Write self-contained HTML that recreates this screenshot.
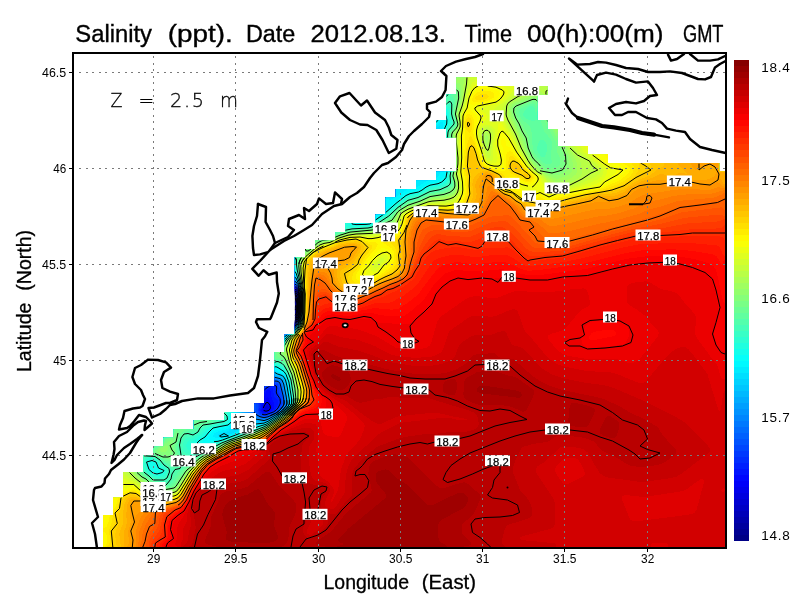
<!DOCTYPE html>
<html lang="en"><head><meta charset="utf-8"><title>Salinity (ppt)</title>
<style>html,body{margin:0;padding:0;background:#fff;overflow:hidden}svg{display:block}text{font-family:"Liberation Sans",sans-serif;fill:#000}</style></head><body>
<svg width="800" height="600" viewBox="0 0 800 600">
<rect width="800" height="600" fill="#fff"/>
<defs><clipPath id="m"><path d="M103,548L103,515L113.1,515L113.1,497.8L123.2,497.8L123.2,472.1L143.4,472.1L143.4,454.9L153.5,454.9L153.5,446.4L163.6,446.4L163.6,437.8L173.7,437.8L173.7,429.2L193.9,429.2L193.9,420.6L224.2,420.6L224.2,412L254.5,412L254.5,403.5L264.6,403.5L264.6,386.3L274.7,386.3L274.7,352L284.8,352L284.8,334.8L294.9,334.8L294.9,257.6L305,257.6L305,249L315.1,249L315.1,240.4L335.3,240.4L335.3,231.9L345.4,231.9L345.4,223.3L375.7,223.3L375.7,214.7L385.8,214.7L385.8,197.5L395.9,197.5L395.9,189L416.1,189L416.1,180.4L436.3,180.4L436.3,171.8L456.5,171.8L456.5,137.5L446.4,137.5L446.4,128.9L436.3,128.9L436.3,120.3L446.4,120.3L446.4,94.6L456.5,94.6L456.5,77.4L476.7,77.4L476.7,86L547.4,86L547.4,94.6L537.3,94.6L537.3,120.3L547.4,120.3L547.4,128.9L557.5,128.9L557.5,146.1L587.8,146.1L587.8,154.6L608,154.6L608,163.2L719.1,163.2L719.1,171.8L726,171.8L726,548Z"/></clipPath></defs>
<g clip-path="url(#m)">
<g fill-rule="evenodd" shape-rendering="crispEdges">
<rect x="70" y="50" width="660" height="500" fill="#000086"/>
<path fill="#000086" d="M70,50L730,50L730,550L70,550ZM180,287.9L189.3,294L193.9,296L198,296.8L213.3,302L234,306.9L248,311.6L252,312.3L254,312.1L256,311L262.4,304L269.4,294L270.4,290L270,287.7L266,287.2L190,287.2ZM296,292.8L294,296.5L291.5,308L290.6,316L290.8,318L292,320.5L294,320.5L296,318.8L298,313.6L298.4,308L298.1,296Z"/>
<path fill="#000093" d="M70,50L730,50L730,550L70,550ZM180,287.5L178.2,288L193.5,296L198,296.9L212.9,302L234,307L248,311.7L252,312.4L254,312.2L256,311.2L264,302.1L269.5,294L270.7,288L270,287.3L266,286.9L190,286.9ZM296,292.3L294,296L291,310L290.5,318L291.1,320L292,321.1L294,320.9L296,319.2L298,314.3L298.4,312L298.3,296L297.7,294Z"/>
<path fill="#00009f" d="M70,50L730,50L730,550L70,550ZM178,287.4L176.3,288L184,291L188.6,294L193.2,296L198,297L212.6,302L234,307.1L248,311.8L252,312.5L254,312.3L256,311.3L262.6,304L269.7,294L271.2,288L270,286.9L266,286.6L188,286.6ZM296,291.8L293.8,296L290.9,310L290.1,318L290.5,320L292,321.7L294,321.4L296,319.7L298,314.9L298.5,312L298.4,296L298,293.8Z"/>
<path fill="#0000ac" d="M70,50L730,50L730,550L70,550ZM176,287.3L174.6,288L178,288.6L192.8,296L198,297.1L212.2,302L234,307.2L248,311.9L252,312.6L254,312.4L256,311.5L262.8,304L269.9,294L271.7,288L270,286.5L266,286.2L186,286.3L180,286.5ZM296,291.4L293.6,296L290.1,314L290,320L292,322.2L294,321.8L296,320.1L298,315.5L298.6,312L298.5,296L298,293.3Z"/>
<path fill="#0000b9" d="M70,50L730,50L730,550L70,550ZM180,286L176,286.4L174,287.1L173.5,288L178,288.9L192.4,296L198,297.3L212,302L234,307.3L248,312L252,312.7L254,312.5L256,311.6L262.9,304L270,294L272.1,288L270,286.1L268,285.9ZM296,290.9L294,294L293.4,296L289.9,314L290,321.4L292,322.7L294,322.2L296,320.5L298,316L298.7,312L298.7,296L298,292.8Z"/>
<path fill="#0000c6" d="M70,50L730,50L730,550L70,550ZM174,285.9L173.5,286L172.7,288L178,289.3L182,290.9L192.1,296L198,297.4L212,302.1L234,307.4L248,312.1L252,312.8L254,312.6L256,311.8L263,304L270.2,294L272.3,288L272,286.9L270.8,286L268,285.7ZM296,290.5L294,293.5L293.3,296L289.8,314L289.8,322L292,323.2L294,322.6L296,320.8L298,316.5L298.9,312L298.8,296L298,292.3Z"/>
<path fill="#0000d2" d="M70,50L730,50L730,550L70,550ZM172,285.9L171.5,286L171.9,288L182,291.1L192,296.1L198,297.5L212,302.2L234,307.5L248,312.2L252,312.9L256,311.9L263.2,304L270.3,294L272.6,288L271.9,286L268,285.4L184,285.4ZM296,290.1L294,292.9L293.1,296L289.4,316L289.5,322L290,323.3L292,323.7L294,322.9L296,321.2L298,317L299,312L299,296L298,291.8Z"/>
<path fill="#0000df" d="M70,50L730,50L730,550L70,550ZM172,285.6L170.1,286L171.4,288L182,291.3L192,296.2L198,297.6L212,302.3L234,307.6L248,312.3L252,312.9L256,312L263.3,304L270.5,294L272.8,288L272,285.7L268,285.2ZM296,289.6L294,292.3L293.4,294L290.4,308L289,318L289.1,322L290,324.1L292,324.2L294,323.3L296,321.6L298,317.5L298.8,314L299.1,296L298,291.3Z"/>
<path fill="#0000ec" d="M70,50L730,50L730,550L70,550ZM170,285.6L168.9,286L170.8,288L182,291.5L192,296.3L198,297.7L212,302.4L234,307.7L248,312.4L252,313L256,312.2L263.4,304L270.6,294L273.1,288L272.9,286L272,285.4L268,285L182,285ZM296,289.1L294,291.7L293.2,294L289.9,310L288.7,320L288.8,322L290,324.7L292,324.6L294,323.7L296,321.9L298,318L299,314L299.2,296L298,290.9ZM266,405.5L264.8,408L266,410.1L268,409.1L268.7,408L268,405.6Z"/>
<path fill="#0000f9" d="M70,50L730,50L730,550L70,550ZM168,285.9L170.3,288L180,290.9L192,296.4L198,297.8L212,302.5L234,307.7L248,312.5L252,313.1L256,312.3L263.6,304L270.8,294L273.3,288L273.3,286L272,285.1L268,284.7L180,284.7L172,285ZM296,288.7L294,291.2L293,294L289.7,310L288.4,322L288.8,324L290,325.2L294,324.1L296,322.3L298,318.5L299.1,314L299.4,296L298,290.4ZM266,402.7L264,405.9L263.4,408L263.4,410L266,411.3L269.3,410L270.6,408L270,405.2L268,402.3Z"/>
<path fill="#0006ff" d="M70,50L730,50L730,550L70,550ZM168,285.4L167.1,286L169.8,288L180,291.1L192,296.5L198,297.9L212,302.6L234,307.8L248,312.6L252,313.2L256,312.4L263.7,304L270.9,294L273.6,288L273.7,286L272,284.8L268,284.5L176,284.5ZM296,288.2L294,290.6L292.9,294L289.2,312L288.1,322L288.2,324L290,325.8L294,324.4L296,322.6L298,319L299.2,314L299.5,296L298,290ZM268,396.7L266,398.8L262.3,408L262.2,410L264,412.1L266,412.3L268,411.7L271.2,410L272.3,408L271.6,404Z"/>
<path fill="#0013ff" d="M70,50L730,50L730,550L70,550ZM168,284.9L166.4,286L169.2,288L180,291.3L192,296.6L197.9,298L212,302.7L234,307.9L248,312.7L252,313.3L256,312.6L263.8,304L271.1,294L273.8,288L274.1,286L272,284.5L268,284.2L176,284.2ZM296,287.8L294,290L293.2,292L288.7,314L287.8,324L289,326L290,326.3L294,324.7L296,322.9L298,319.5L299.4,314L299.7,296L298,289.5ZM270,389.9L268,390L265.8,392L264.8,394L263.8,400L261.2,410L262.1,412L264,412.9L266,413L269.3,412L272.9,410L274.2,408L274.5,404L271.6,398L270.9,392Z"/>
<path fill="#0020ff" d="M70,50L730,50L730,550L70,550ZM174,284L168,284.4L166,285.6L165.7,286L168.7,288L180,291.5L192,296.8L197.5,298L212,302.8L233.9,308L248,312.8L252,313.4L256,312.7L264,304L271.2,294L274,288L274.4,286L274,285.2L272,284.2L270,284ZM296,287.3L294,289.3L293,292L288.2,316L287.6,322L287.9,326L290,326.8L294,325.1L296,323.3L298,319.9L299.5,314L299.9,302L299.5,294L298,289.1ZM270,387.7L265.9,390L264,392.4L262.7,396L262.1,402L260.2,410L260.9,412L264,413.8L268,413.2L274.5,410L276.1,408L278,404L278,400.8L275,398L273.7,396L273.2,388Z"/>
<path fill="#002dff" d="M70,50L730,50L730,550L70,550ZM168,283.9L166,284.7L165.2,286L168.1,288L173.5,290L178,290.9L192,296.9L197.2,298L212,302.9L233.5,308L248,312.9L252,313.5L256,312.8L264.1,304L271.4,294L274.3,288L274.7,286L274,284.7L270,283.6ZM296,286.8L294,288.7L293.4,290L290.9,300L287.5,320L287.3,324L288,327.1L290,327.3L292,326.5L296,323.6L298,320.3L299.2,316L299.9,310L299.9,296L298,288.6ZM272,385.9L268,387.2L266,388.7L261.8,394L259.2,410L259.7,412L262.2,414L266,414.4L272.8,412L275.9,410L279.6,404L279.8,400L275.8,394L275.5,392L276,387.5L274.9,386Z"/>
<path fill="#0039ff" d="M70,50L730,50L730,550L70,550ZM166,283.9L164.6,286L167.6,288L172.9,290L178,291L192,297L196.8,298L212,303L233.1,308L248,313L252,313.6L256,313L264.3,304L271.5,294L275,286L274,284.2L270,283.3L176,283.3ZM296,286.3L294,288L293.1,290L290.7,300L287.3,320L287.2,326L288,328L292,326.9L296,323.9L298,320.8L299.4,316L300,310L300,295.4L298,288.2ZM270,385.3L268,386.2L263.6,390L259.8,396L259.3,404L258.3,410L258.6,412L260.6,414L264,415.2L268,414.5L274.2,412L278.6,408L280.7,404L280.9,400L280,396.7L277.5,392L277.3,386L276,384.7L274,384.5Z"/>
<path fill="#0046ff" d="M70,50L730,50L730,550L70,550ZM166,283.4L164,284L164,286L167.2,288L172.4,290L178,291.2L192,297.1L196.4,298L212,303.1L232.8,308L248,313.1L252,313.7L256,313.1L264.4,304L271.7,294L275.2,286L274,283.6L270,282.9L176,282.9ZM296,285.8L294,287.2L292.8,290L289,308L286.8,324L286.8,326L288,328.6L292,327.2L296,324.2L298,321.2L299.5,316L300.2,310L300,294.2L298,287.8ZM272,383.8L268,385.3L266,386.8L261,392L258.5,396L258,398L257.6,412L259.2,414L262,415.4L266,415.8L275.3,412L279.6,408L281.8,404L281.9,400L279.1,392L278,384.8L276,383.5Z"/>
<path fill="#0053ff" d="M70,50L730,50L730,550L70,550ZM164,283.4L162.1,284L163.3,286L166.7,288L172,290L178,291.3L192,297.2L196.1,298L212,303.2L232.4,308L248,313.2L252,313.8L256,313.2L264.6,304L271.8,294L275.5,286L274.9,284L274,283.1L270,282.6L174,282.6ZM296,285.3L294,286.5L292.5,290L288.8,308L286.5,324L286.9,328L288,329.3L292,327.6L296,324.6L298.6,320L300,314.1L300.1,294L298,287.3ZM270,383.4L266,385.9L261.9,390L258.6,394L256.5,398L256.4,412L257.8,414L262,416.1L266,416.4L276,412.2L280.4,408L282.6,404L282.3,398L278.6,384L276,382.5Z"/>
<path fill="#0060ff" d="M70,50L730,50L730,550L70,550ZM162,283.1L160.4,284L162.6,286L166.3,288L172,290.2L178,291.5L192,297.3L196,298.1L212,303.3L232.1,308L248,313.3L252,313.9L256,313.4L264.7,304L272,294L275.8,286L275.4,284L274,282.6L270,282.2L172,282.2L166,282.4ZM294,285.7L291.2,294L287.2,316L286.1,326L286.3,328L288,329.9L294,326.7L296,324.9L298.8,320L300.1,314L300.5,298L300,292.7L298,286.9L296,284.8ZM272,381.9L268,383.5L264,386.9L257.6,394L255.2,398L254.7,400L255.2,412L256.5,414L262,416.8L266,417L276,412.7L281.2,408L283.4,404L283,398L279.7,384L277.5,382Z"/>
<path fill="#006cff" d="M70,50L730,50L730,550L70,550ZM166,281.9L160,282.9L159.4,284L161.8,286L172,290.4L178,291.7L192,297.4L198,298.8L212,303.4L232,308.1L248,313.4L252,314L256,313.5L264.9,304L272.2,294L276.1,286L276,284L274,282.1L270,281.6ZM294,284.9L291.2,292L287,316L285.8,328L286.6,330L288,330.4L294,327L296.9,324L298.9,320L300.3,314L300.6,298L300,292L298,286.5L296,284.3ZM270,381.5L266,384.2L258.4,392L255.1,396L253.2,400L253.9,412L256,414.7L262,417.5L266,417.6L276,413.1L282,408L284.1,404L283.7,398L280,383L278,381.3L276,380.8Z"/>
<path fill="#0079ff" d="M70,50L730,50L730,550L70,550ZM160,281.4L159.2,282L158.6,284L160.8,286L172,290.5L178,291.8L192,297.5L198,298.9L212,303.5L232,308.2L248,313.5L252,314.1L256,313.6L265.1,304L272.4,294L276.4,286L276,282.7L274,281L272,280.8L170,280.7ZM296,283.8L294,284.1L292.8,286L290.8,292L285.7,324L286,330.7L288,330.9L294,327.3L296,325.5L298.4,322L300,316.2L300.6,310L300.5,294L298.9,288L298,286.1ZM268,381.8L255.8,394L252.8,398L251.5,402L251.9,410L253.2,414L258,416.8L264,418.5L268,417.5L278,412.3L282.6,408L284.8,404L284,396L281.3,384L280.3,382L278,380.4L276,380L272,380.1Z"/>
<path fill="#0086ff" d="M70,50L730,50L730,550L70,550ZM160,279.7L158,280.1L157.3,282L157.8,284L159.9,286L166,288.4L172,290.7L178,292L192,297.6L198,299.1L212,303.6L232,308.3L248,313.6L252,314.2L256,313.8L258,312.2L265.2,304L272.6,294L276.6,286L276.8,284L276,280.6L274,279.7L272,279.6ZM294,283.2L292.3,286L290.8,290L289.1,300L285.4,324L285.4,330L286,331.8L288,331.4L290,330.2L296,325.8L298.5,322L300.2,316L300.8,300L300.3,292L298,285.7L296,283.2ZM270,379.7L266,382.6L254.9,394L251.7,398L249.9,402L250,410L250.9,414L253.6,416L262,418.9L266,418.8L276.2,414L283.2,408L285.5,404L284.7,396L282.1,384L281.2,382L280,380.7L278,379.6L272,379.2Z"/>
<path fill="#0093ff" d="M70,50L730,50L730,550L70,550ZM154,277.9L152.1,278L152,280L154,280.6L156,282.1L159.4,286L172,290.8L178,292.1L192,297.7L198,299.2L212,303.7L232,308.5L248,313.7L254,314.4L256,313.9L258,312.4L265.4,304L267.9,300L272.8,294L276.9,286L277.4,280L276.2,278L274,277.9ZM294,282.4L290.9,288L288.9,298L285.1,324L285,330L286,332.6L288,331.9L296,326.1L298.7,322L300.3,316L300.9,300L300.4,292L298,285.3L296,282.6ZM270,378.8L266,381.8L257.8,390L252.3,396L249.4,400L248.2,404L248.1,412L248.4,414L250,417.4L254,417.4L262,419.6L266,419.4L278,413.2L282,410L285.3,406L286.1,404L286,400L282.1,382L280.4,380L278,378.9L272,378.2Z"/>
<path fill="#009fff" d="M70,50L730,50L730,550L70,550ZM148,277.3L146.3,278L149.1,280L152,280.8L156,282.9L158.8,286L172,291L178,292.3L192,297.9L212,303.8L232,308.6L248,313.8L254,314.5L256,314L258,312.7L265.5,304L268,300.1L273,294L277.2,286L278.7,278L278,277.4L274,276.9ZM294,281.6L291,286L288.6,294L288,304.2L284.7,326L284.9,332L286,333.3L292,329.7L296,326.4L298.9,322L300.4,316L301.1,300L300.6,292L298,284.8L296,282.1ZM270,377.9L266,381L253.2,394L249.7,398L247.3,402L246.7,404L245.5,422L248,423.9L250,422.7L251.9,420L254,418.8L264,420.4L268,419.1L278,413.6L282.5,410L285.9,406L286.7,404L286.6,400L283.5,384L282,380.5L280,378.9L278,378.1L272,377.2Z"/>
<path fill="#00acff" d="M70,50L730,50L730,550L70,550ZM150,276L146,276.4L144.8,278L147.3,280L154,282.4L158.3,286L160,286.7L172,291.1L182,293.9L192,298L210,303.4L234,309.2L248,313.9L254,314.7L256,314.2L258,312.9L265.7,304L273.2,294L277.4,286L280,278L278,276.2L276,276ZM294,280.7L292,282.9L290.4,286L287.8,292L286.8,296L287.4,302L284.2,330L284.2,332L286,334L296,326.8L299.1,322L300.6,316L301.2,300L300.7,292L298,284.4L296,281.3ZM270,377L266,380.3L252.4,394L246,402L245.3,404L244.7,410L242.3,422L243.4,424L248,425.3L250,424.6L254,420.2L254.8,420L256,419.8L262,421L266,420.5L278.1,414L283.1,410L286.5,406L287.3,404L287.2,400L284.2,384L282.5,380L280,378L274,376.4L272,376.2Z"/>
<path fill="#00b9ff" d="M70,50L730,50L730,550L70,550ZM144,275.8L143.5,276L143.7,278L146,280L154,282.9L158,286.1L172,291.3L178,292.6L192,298.1L198,299.5L212,304.1L234,309.3L250,314.5L254,314.9L256,314.4L258,313.1L265.9,304L273.4,294L276.8,288L280.7,278L280,275.8L276,275.3L150,275.3ZM294,279.7L290.6,284L284.4,296L282.9,300L284,301.6L286,301.5L286.4,304L286.1,312L284.6,322L283.8,332L284.3,334L286,334.5L294,328.9L296.9,326L299.2,322L300.7,316L301.3,300L300.8,292L299.8,288L298,284L296,280.5ZM272,375.2L268,377.6L264,381.4L249.8,396L244.9,402L243.9,404L242.6,412L239.5,422L240,424L244.3,426L248,426.3L250,425.8L254,421.7L256,420.9L262,421.7L266,421L278.6,414L283.6,410L287,406L287.9,404L288.1,402L284,381.2L282,378.3L280,377.2L274,375.3Z"/>
<path fill="#00c6ff" d="M70,50L730,50L730,550L70,550ZM142,275.7L141.7,276L142.8,278L146,280.4L154,283.4L158,286.4L170,290.7L178,292.8L192,298.3L198,299.6L212,304.2L234,309.5L250,314.6L254,315L256,314.7L258,313.4L264.5,306L272.2,296L277.1,288L281.5,278L281.5,276L280,275L274,274.6L148,274.6L144,274.9ZM294,278.7L291.1,282L284,294.1L279.6,302L277.1,308L278,309.5L284,305.6L285.4,308L283.4,330L284,335.1L286,335L296,327.4L299.4,322L300.8,316L301.4,300L301,292L300,288L298,283.4L296,279.7ZM270,375.2L252.8,392L243.9,402L241.9,406L240.9,412L237.5,422L237.3,424L238,425L242,426.5L248,427.1L251.1,426L254,423.2L256,422.1L262,422.4L266,421.5L279.2,414L284.1,410L287.5,406L288.4,404L288.4,400L285.5,384L284,379.6L282,377.3L274,374.2L272,374.2Z"/>
<path fill="#00d2ff" d="M70,50L730,50L730,550L70,550ZM146,274L142,274.4L140.6,276L141.9,278L146,280.9L154,283.9L158,286.7L160,287.4L172,291.6L181.1,294L192,298.5L198,299.7L212,304.4L234,309.6L250,314.8L254,315.2L256,314.9L258,313.6L264.8,306L272.6,296L277.4,288L282.2,278L282.5,276L282,275.1L280,274.1L276,273.9ZM294,277.7L291.6,280L278,302.4L273.7,310L271.2,316L272,317.7L282,310.1L284,309.3L284.5,312L284.3,318L283,332L284,336.2L286,335.6L296,327.7L299.6,322L301,316L301.5,300L301.1,292L300,287.5L296,278.8ZM272,373.2L268,376L256,388L246.3,398L241.5,404L235.4,424L235.2,426L236,426.9L248,427.9L252,426.2L256,423.2L262,423L266,422L279.7,414L284.6,410L288,406L289,404L288.9,400L286.1,384L285,380L283.9,378L282,376.2L274,373Z"/>
<path fill="#00dfff" d="M70,50L261.8,50L264,52.4L270,56.6L283.5,70L290,74.6L303.5,88L310,92.6L318,100.3L334.6,110L398,141.3L400,141.2L401.9,140L404.5,136L424,116L426.3,112L426.8,110L424.9,108L421.6,106L408,101L401.6,98L398,97L391.6,94L388,93L381.6,90L378,89L371.6,86L368,85L361.6,82L358,81L351.6,78L348,77L341.6,74L338,73L331.6,70L328,69L321.6,66L318,65L311.6,62L308,61L301.6,58L298,57L294,55.3L292,53.8L290.3,52L289.4,50L730,50L730,550L70,550ZM142,273.3L140.3,274L139.7,276L141.2,278L146,281.3L154,284.2L158,286.9L172,291.7L180.6,294L192,298.6L198,299.9L212,304.6L234,309.7L250,314.9L254,315.3L256,315.1L258,313.8L265.1,306L268,301.6L272.9,296L278.8,286L282.8,278L283.3,276L282,273.7L278,273ZM294,276.5L290.8,280L275.9,304L268,317.7L265.2,324L266,325.9L280,314.7L282,313.3L283,314L283.9,318L282.6,332L283.2,336L284,337.1L286,336.1L296,328L298,325.5L299.8,322L301.1,316L301.6,300L301.2,292L300,287L296,277.8ZM274,371.8L272,372.2L268,375.2L247.4,396L240.5,404L238.6,408L236.6,416L232.2,428L232,430.3L234,430.5L240,428.6L248,428.5L252,426.9L256,424.3L262,423.6L266,422.5L280.2,414L285,410L288.5,406L289.7,402L288,390.4L285.7,380L284,376.9L282,375.2L278,373.9Z"/>
<path fill="#00ecff" d="M70,50L258.8,50L262,54.1L268,58.3L282,72.1L288,76.3L302,90.1L308,94.3L316,102.1L320,105L334,113.2L394,143.2L398,144.2L402.3,142L406.6,136L424.4,118L429.4,110L428.1,108L421.7,104L418,103L411.7,100L408,99L401.7,96L398,95L391.7,92L388,91L381.7,88L378,87L371.7,84L368,83L361.7,80L358,79L351.7,76L348,75L341.7,72L338,71L331.7,68L328,67L321.7,64L298,54.9L294,52.9L291.7,50L730,50L730,550L70,550ZM140,272.6L139,274L139.1,276L140.5,278L146,281.7L154,284.6L158,287.2L172,291.9L180.1,294L192,298.8L198,300L212,304.7L234,309.8L248,314.6L254,315.5L256,315.3L258.1,314L265.3,306L268,302L273.2,296L279.3,286L284.2,276L283.9,274L282,272.4L280,272.1L146,272.1ZM294,275.3L292,276.9L289.9,280L264,322.3L259.9,330L259.4,332L259.9,334L266,329.6L280,317.8L282,316.9L282.7,320L282.2,334L282.5,336L284,338L296,328.3L299.1,324L300.5,320L301.5,314L301.6,294L300.5,288L296,276.7ZM440,125.9L438,126.8L434,131.2L415.9,154L411.9,160L410,163.8L410,166.1L412,167.4L416,167.2L434,158.4L436,156.9L438,152.6L440,138.8L440.5,130ZM272,371.2L264,378.4L244.7,398L239.4,404L237.2,408L233.4,422L230,428.6L228,431.3L220,433.3L218.5,434L218.1,436L222,436.6L225,436L228,434.6L232,433.6L239.5,430L248,429.1L251.3,428L256,425.2L262,424.2L266,422.9L280,414.5L287.3,408L290,404L290.3,402L288,387.1L286,379.1L284,375.6L282,374.1L274,370.6Z"/>
<path fill="#00f9ff" d="M70,50L256.6,50L257.5,52L260,54.8L267,60L282,74.6L287,78L301.3,92L308,96.9L319.3,108L324.7,114L343.1,150L346,158.1L351.1,168L356,181.3L358,185.1L360,183.6L378,164.9L383.1,158L390.9,150L393.3,148L400,144.8L403.5,142L407.9,136L426,117.5L430.6,110L430,108.3L424,103.9L298,53.7L294.7,52L293,50L730,50L730,550L70,550ZM138,271.9L138.4,276L140,278.1L146,282.1L154,284.9L158,287.5L172,292.1L179.6,294L192,299L197.6,300L212,304.9L234,309.9L248,314.7L254,315.6L256,315.5L258.5,314L273.6,296L284.3,278L285.1,276L285.2,274L284,271.1L280,270.4L144,270.3L140,270.5ZM292,275.4L258,330.6L254,338L253.4,340L253.7,342L258,339.4L280,321L282,322.5L281.6,332L282,337.4L282.3,338L284,338.7L296,328.6L299.3,324L300.6,320L301.6,314L301.5,292L300.7,288L296,275.6L294,274.1ZM442,121.4L440,122.3L436,126.3L392,179.9L383.7,192L382.4,196L384,197.5L388,199.4L390,199.7L392,199L408,189.2L418,186.6L426,181.2L436,178.3L438.8,176L439.7,174L441.8,134L443,124L442.6,122ZM274,369.4L272,370.3L268,373.6L238.5,404L235.1,410L232.7,418L232.2,422L228,428.5L226,429.7L220,430.8L216,432.3L213.9,434L213,436L214,437.1L215.3,438L218,438.5L222.9,438L234.2,434L240,431.1L248,429.7L258,425.4L264,424.2L278.4,416L283.8,412L287.7,408L290.4,404L290.8,402L289.1,390L287,380L284,374.4L282,372.9L278,371.4L276,369.9Z"/>
<path fill="#06fff9" d="M70,50L246,50L246,52L248,56.1L253.9,64L254,64.8L255.5,66L256,67.8L257.5,68L259.5,70L260,72L262,74L262,76L264,78L264,80L266,82L266,84L270,88L270,90L272,92L272,94L274,96L274,98L278,102L278,104L280,106L280,108L282,110L282,112L286,116L286,118L288,120L288,122L290,124L290,126L294,130L294,132L296,134L296,136L298,138L298,140L300,142L300,144L304,148L304,150L306,152L306,154L308,156L308,158L312,162L312,164L314,166L314,168L316,170L316,172L320,176L320,178L322,180L322,182L334,194L334,196L336,196L342,190L346,192L350,192.2L354,192.1L358,190.4L363,184L380,166.6L384.8,160L396,148.7L404,142.5L408.7,136L426,118.6L431.6,110L431,108L426,104.1L422,102.1L298,52.8L294.2,50L730,50L730,550L70,550ZM136,269.1L134.7,270L139.3,278L146,282.5L154,285.2L158,287.7L172,292.3L179.1,294L192,299.1L197,300L212,305.1L234,310L248,314.9L254,315.8L256,315.7L259,314L275.5,294L285.3,278L286.9,272L286.8,270L286,269.3L282,268.6L142,268.6ZM292,273.7L288.9,278L253.6,336L248,346.4L247.5,348L247.5,350L248,350.3L254,346L278,325.4L280,324.4L281,328L281.2,336L282,339.7L284,339.4L296,329L298.3,326L300.3,322L301.7,314L301.6,292L300.8,288L296,274.5L294,272.6ZM442,118.5L440,120L434,126.7L376,195.8L360,216.3L357.6,220L358,221.2L359.3,222L362,222.2L368,222.2L370,221.7L381.1,214L396,201L406,193.3L410,191.7L418.6,190L428,183.7L438,181.4L440.4,180L444,176.2L444.8,174L444.6,172L442.4,166L442.1,156L443.2,130L445.1,122L444,118.4ZM272,369.4L266,374.8L245,396L235.9,406L233.7,410L231.2,418L230.9,422L230,424L228,426.4L226,427.7L216,430L212.6,432L209.2,436L208.4,438L210,439.5L218,440L222,439.1L231.5,436L242,431.6L250,429.6L256,426.7L264,424.6L278.9,416L284,412.2L288.2,408L290.9,404L291.3,402L289,386L286.9,378L284,373.1L282,371.8L276,368.3L274,368.3Z"/>
<path fill="#13ffec" d="M70,50L235.4,50L240,60L243,64L248,74L251,78L258,92L261,96L266,106L269,110L274,120L277,124L282,134L285,138L292,152L295,156L300,166L303,170L308,180L311,184L314,190L322.5,200L328,207.4L334,213.2L336,214.1L338,212.5L341.3,208L352.9,196L360,190L364.4,184L381.9,166L386.3,160L396.1,150L404,143.3L409.5,136L426,119.5L432,110.7L432.1,108L426,103.2L422,101.2L308,56L298,51.9L295.4,50L730,50L730,550L70,550ZM132,267.9L132.3,270L136,273.5L137.2,276L140,279.1L146,282.9L154,285.6L158,288L172,292.6L178.6,294L192,299.3L196.5,300L212,305.2L217.2,306L220,307.1L233.5,310L250,315.5L256,315.9L258,315.3L266.7,306L270,301.1L274,297.2L275.3,298L246,346.9L242,354.7L241.4,358L242,358.4L248,354.2L278,328.6L280,328.9L281.2,340L282,340.9L284,340.1L287.9,336L296,329.3L298.6,326L300.5,322L301.6,316L302,310L302.1,296L301,288L296,273.2L294,270.8L292,271.3L290,272.5L289.5,270L288,268L286,267.3L280,267.1L140,267.1L134,267.3ZM444,115L442,116.2L436,122.6L360,212.3L352.5,222L353.3,224L366,224.2L370,223.6L383.6,214L398,201.4L406,195.2L410,193.4L418,192L421.8,190L428,185.6L438,183.4L441.1,182L444,179.5L446,176.9L446.8,172L446,168L444,163.8L443.2,154L444.2,130L446.8,122L446,116.6ZM274,367.3L270,370.1L266,374L234.9,406L232.4,410L229.8,418L229.6,422L228,424.6L226,425.9L216,428.3L212,430L207.8,434L203.2,440L202.3,442L202.7,444L204,444.5L206,444.2L212,441.7L218,441.1L222,440.1L242,432.4L250,430.1L258,426.6L264,425L278,416.9L286.7,410L290.2,406L291.8,402L290.2,390L288.3,380L286,374.6L284,371.8L276,366.9ZM279.5,290L280,288.7L280.2,290L280,290.4ZM277.6,292L278,291.1L278.9,292L276,297.1L275.4,296L276,294Z"/>
<path fill="#20ffdf" d="M70,50L234.1,50L238,58.4L242.9,66L248,76L250.9,80L256,90.4L260.9,98L266,108L268.9,112L274,122L276.9,126L282,136L284.9,140L290,150.4L294.9,158L298,164.4L302.9,172L306,178.4L310.9,186L314,192L322.6,202L326.9,208L332.9,214L336,215.4L338,214.3L342.9,208L360,191.1L365.5,184L382,167L387.2,160L397.1,150L404.1,144L410,136.2L426.3,120L432,112L433,110L433,108L431.4,106L424,101.2L308,55L296.9,50L730,50L730,550L70,550ZM132,266L130,267L129.6,268L130.8,270L135.4,274L138.1,278L146,283.2L154,285.9L158,288.3L172,292.8L178,294L190,298.8L196,300L212,305.4L216.6,306L220,307.2L233,310L248,315.2L254,316.3L258,315.7L268,305.3L269.2,306L266.1,312L238,358.7L235.6,364L235.3,366L236,366.6L240,364L274,334.8L278,331.9L279.3,334L280.2,340L282,342L284,340.8L288.3,336L296,329.6L298.8,326L300.6,322L301.7,316L302.1,310L302.3,296L301.2,288L296,271.9L294,268.7L288,266.2L282,265.7ZM446,111.9L444,112.6L438,118.6L371.8,196L351.6,220L349.3,224L350,224.9L354,225.7L366,225.3L370,224.8L371.9,224L385.5,214L398,203L406,196.8L410,194.9L416,193.8L420,192.5L428,187.2L430,186.5L440,184.4L444,182L446,180.1L447.4,176L448.2,170L448,168L445.1,160L444.5,156L444.7,134L445.7,128L447.9,124L448.4,122L447.2,114ZM150,461.4L148,462.6L147.7,466L149.8,470L151.9,472L156,473.9L158,474L160,473.5L162,472.2L162,470L156,463.3L154,461.8ZM276,365.6L272,367.6L268,371.2L233.9,406L230.3,412L228.6,418L228.3,422L226.5,424L224,425.1L214,427.4L209.1,430L202,437.2L196.2,442L195.3,444L196.4,446L200,447.8L204,448L212,443.4L218,442.1L250,430.6L258,427.2L264,425.5L278,417.3L286,411.1L290.6,406L292.2,402L289.4,382L287.3,376L284,370.5L278,366.1ZM270,302L271.4,302L270,305.1L269.4,304Z"/>
<path fill="#2dffd2" d="M70,50L233.3,50L238,60.1L249.9,80L256,92.1L259.9,98L264,106.1L267.9,112L272,120.1L285,142L290,152.1L293.9,158L298,166.1L301.9,172L306,180.1L313.1,192L321.4,202L326,208.5L333.8,216L336,216.6L338,215.5L344.1,208L360.1,192L366,184.4L382,168L388,160.2L398.1,150L404.9,144L410,137L427.1,120L432.7,112L433.7,110L433.8,108L432,105.1L426,101L422,99.2L418,98L412,95.2L408,94L402,91.2L398,90L392,87.2L388,86L382,83.2L378,82L372,79.2L368,78L362,75.2L358,74L352,71.2L348,70L342,67.2L338,66L298.9,50L730,50L730,550L70,550ZM130,263.7L128,264.4L127.2,266L127.8,268L129.5,270L134.5,274L138,278.6L144,282.8L153.4,286L158,288.6L163.6,290L172,293.1L177.3,294L190,299L196,300.3L210,305L232.5,310L248,315.4L254,316.8L256,317L260,314.9L262,312.1L264,310.4L264.5,312L264,312.9L232,366.7L229.6,372L229.2,374L230,374.8L236,370.5L276,336.2L278,335.7L280,342L282,342.9L284,341.4L288.6,336L297.7,328L300.8,322L302.2,312L302.1,292L301.3,288L296,270.1L294,265.9L292,264.5L284,263.4ZM446,109.2L442,112.6L433.6,122L371.9,194L349.8,220L346.9,224L346.3,226L350,226.7L370,225.8L373.3,224L384.5,216L400,202.8L408,197L418,194.5L428,188.7L440,185.9L443.9,184L446.5,182L448,179L449.1,170L448.4,164L446.3,158L445.6,154L445.5,134L446.1,130L449.5,124L450,122L448.2,110L448,109.5ZM148,459.9L146,462L145.8,466L147.5,470L149.2,472L152,474.2L156,475.9L160,475.8L163.8,474L164.8,472L164.5,470L157.2,462L154,460L150,459.5ZM274,365.2L268,370.4L232.8,406L228.9,412L227.3,420L226,422.7L224,423.7L212,426.8L206.1,430L200.1,436L191.5,442L190.4,444L190.7,446L192,447.7L195.8,450L198,450.5L204,449.7L212,445.1L266,425L280,416.3L286,411.5L290.9,406L292.7,402L291.9,394L289.5,380L287.1,374L284,369.2L278,364.7L276,364.5Z"/>
<path fill="#39ffc6" d="M136.5,50L232.6,50L238,61.4L249.1,80L256,93.4L259.1,98L264,107.4L267.1,112L272,121.4L283.1,140L290,153.4L293.1,158L298,167.4L301.1,172L312.3,192L326,209.8L332.3,216L334,217.2L336,217.5L338.6,216L345.1,208L361,192L366,185.3L382.9,168L388,161L405.6,144L410,137.7L427.9,120L434.4,110L434.4,106L432,103L426,99L307.6,52L303.6,50L730,50L730,550L70,550L70,230.5L72,230.8L82,236.6L111,256L122,262.6L124,264.3L126.3,268L134,274.4L138,279.2L144,283.3L152.5,286L158,289L162.8,290L172,293.3L176.5,294L190,299.3L200.8,302L210,305.2L232,310L254,317.3L259.1,318L256,324.1L226,374.6L222.9,382L224,383.1L230,378.7L274,340.8L276,339.5L278,340.4L280,343.8L282,343.7L284,342.1L289,336L296,330.2L298,328L301,322L302,316L302.6,298L302.2,292L294.7,264L294.1,260L276,224L265,210L260,202L243,180L242,178L235,170L232.4,166L226.6,160L222,153.5L216.6,148L212.4,142L206.6,136L202.4,130L196.6,124L192.4,118L185,110L182.4,106L176.6,100L172.4,94L166.6,88L162.4,82L155,74L152.4,70L146.6,64L144,60L137.2,52ZM448,106L444,109L432.2,122L389.2,172L346.5,222L343.7,226L343.3,228L346,228.4L368,226.9L371.7,226L388,214.5L398,205.6L408,198.3L418,195.7L430,189.4L440,187.4L446,184.5L448,182.7L448.9,180L450.1,168L449.6,164L446.7,152L446.4,134L447,130L451.3,124L451.7,122L450.2,116L449.5,108ZM146,459.3L144.6,462L144.3,464L144.8,468L147.3,472L150,474.4L154,476.9L158,477.7L162,477.3L164,476.4L166,474.3L166.9,472L166.6,470L165.1,468L156.7,460L154,458.8L150,458.1L148,458.3ZM276,363.4L274,364.3L270,367.6L231.7,406L227.4,412L225.9,420L224.3,422L212,425.5L205.8,428L198,435.1L190,439.4L188,441L186.3,444L186.2,446L186.7,448L188,449.7L192,452.2L196,453.4L204,451L212,446.5L224,441.1L266,425.4L278,417.9L286,411.9L291.3,406L293.1,402L292.4,394L290.5,382L288,374.5L284,367.8L280,364.4L278,363.4Z"/>
<path fill="#46ffb9" d="M138.2,50L231.9,50L237.6,62L248.4,80L255.6,94L258.4,98L271.6,122L282.4,140L289.6,154L292.4,158L297.6,168L300.4,172L311.6,192L324.8,210L332,217.2L334,218.4L336,218.5L339.7,216L346,208.1L361.8,192L366.2,186L383.8,168L389.8,160L399.9,150L406,144.7L410.6,138L429.3,120L430,118L435.2,110L436.6,104L446,94.8L447.6,92L447.3,90L446,88L436.9,82L412,67.5L400.9,60L396,57.5L390,53.1L388.2,50L730,50L730,550L70,550L70,232.2L72,232.7L82,238.7L110,257.4L122,264.8L126.9,270L134,275.4L138,279.9L144,283.8L151.5,286L158,289.3L162,290L172,293.6L176,294.2L190,299.5L200,302L210,305.5L232,310.3L254.9,318L255.7,320L254,323.5L218.1,386L216.6,390L218,391.4L224,386.9L274,343.8L276,342.7L280,345.4L282,344.6L289.4,336L296,330.6L298.3,328L301.2,322L302.2,316L302.7,298L302.4,292L296.9,270L295.7,260L276.4,222L266.9,210L260.4,200L256.9,196L242.4,176L236.9,170L234,165.5L226.9,158L224,153.5L216.9,146L214,141.5L206.9,134L204,129.5L196.9,122L194,117.5L186.9,110L184,105.5L176.9,98L174,93.5L168,87.2L164,81.5L156.9,74L154,69.5L146.9,62L144,57.5L139,52ZM448,103.7L430.4,122L346.5,220L341.7,226L340.5,228L340.3,230L344,230.1L350,228.7L368,227.6L372,226.6L387.7,216L398,206.8L408,199.6L418,196.8L430,190.7L442,188.1L446.3,186L448.9,184L449.8,182L449.7,176L450.8,170L450.9,166L447.4,148L447.2,134L448,130L453,124L453.2,122L451.3,116L450.9,106L450.5,104L450,103.3ZM146,457.5L143.8,460L143.1,464L143.4,468L145.5,472L152,477.4L156,479L162,479.6L164,479.2L166,477.9L168,475.5L169.3,472L168.9,470L167.4,468L158.5,460L156,458.4L150,456.8ZM274,363.3L268,368.6L228.6,408L225.8,412L224,418.9L223.2,420L204,427.2L196.1,434L188,437.2L184.4,440L183.3,442L182.5,446L183.2,450L184.3,452L186,453.6L190.8,456L194,456.4L196,455.9L224,441.6L266,425.8L278.4,418L286,412.3L291.7,406L293.5,402L292.7,392L290.6,380L286,369.2L282,364.3L278,362.3L276,362.4Z"/>
<path fill="#53ffac" d="M139.3,50L231.2,50L236.9,62L248,80.6L254.9,94L258,98.6L262.9,108L266,112.6L270.9,122L282,140.6L288.9,154L292,158.6L304.9,182L312,193.8L319.5,204L323.2,210L332,219L334,219.7L336,219.5L340,216.9L346,209.3L362,193L367.3,186L385,168L387.4,164L390,161L400,151.2L406,146.6L406.3,148L400.1,156L339.9,226L337.3,230L338,232.1L340.4,232L352,229.1L368,228.2L372,227.4L389.4,216L398,207.8L408,200.7L418,197.9L430,192L442,189.5L448,186.7L450.6,184L450.9,182L450.4,176L451.7,166L448.3,146L447.9,136L448.4,132L449.2,130L453.2,126L454.4,124L454.4,122L452,114L452.2,102L450,100.4L448,101.5L434,116.5L432.3,116L435.4,112L438,105.1L448,95.9L449.6,92L449.2,90L448.1,88L445.9,86L440,82L414,66.9L404,60L396,55.6L391.3,52L390.1,50L730,50L730,550L70,550L70,403L72,403.3L76,405.5L86.9,416L92,419.5L100.9,428L106,431.5L116.9,442L122,445.5L134,456.8L136,457.6L139.9,456L140.9,452L144.5,448L144,445.2L140.4,438L130,411.2L126.4,404L124,396.5L122,392L70,314.6L70,233.3L72,234L81.4,240L110,259.1L115.4,262L121.3,266L125.4,270L133.4,276L138,280.9L144,284.6L150.3,286L158,289.6L180.5,296L192,300.4L199,302L210,305.7L236.8,312L248.9,316L253.2,318L253.3,320L252,322.2L240,336.1L236.5,342L231.6,348L230.8,350L232,350.9L234,349.4L235.1,350L234,353.9L213.7,390L209.9,398L210,400.3L212,399.8L216,396.8L274,346.9L276,346.2L280,346.9L282,345.5L288,337.9L296,330.9L298.5,328L301.3,322L302.3,316L302.9,298L302.6,292L297.4,270L296.2,258L278,222.6L268,209.6L261.6,200L234.1,164L228.3,158L224.1,152L218.3,146L214.1,140L208.3,134L204.1,128L198.3,122L194.1,116L188.3,110L184.1,104L178.3,98L174.1,92L168.3,86L164.1,80L158.3,74L154.1,68L148.3,62ZM532,113.4L532,114.2ZM146,456L142.4,458L142,468L143.8,472L150,477.4L154,479.8L164,483.5L166,483.5L168,482.4L170.1,480L174.8,470L166,464.6L160.3,460L156,457.3L150,455.4ZM180,323.8L179.5,324L179.4,326L180,328L185.1,340L188,349.3L191.1,356L192,359.3L202,383.4L204,383.8L208.5,378L212,374.6L221,364L223.1,360L218,359L216,357.5L194.5,336L188,331.4ZM226,355.7L226,356.7L226.7,356ZM228,353.7L228,354.6L228.5,354ZM230,351.3L230,352.4L230.4,352ZM276,361.2L274,362.2L270,365.6L229,406L225.3,410L219.9,418L217.8,420L214,422.2L203,426L196,431.6L188,433.6L183.9,436L181.5,440L180,446L180.2,450L181.9,458L182,462.8L183,464L186,463.9L188,463.2L194,458.6L200,454.9L222,443L266,426.2L284,414.4L290.4,408L293.3,404L294.1,400L292.6,388L290.6,378L288,371.7L284,364.7L280,361.7L278,361.1ZM431.9,118L432,116.9ZM417.9,132L420,130.4L420.4,132L414,140L408,146L407.9,144L409.8,140Z"/>
<path fill="#60ff9f" d="M140.4,50L230.5,50L235,60L248,81.9L253,92L266,113.9L270.1,122L274,127.9L278.1,136L282,141.9L288.1,154L292,159.9L295,166L300,173.9L303,180L311.3,194L319.4,206L324.8,216L328,223.8L330,224L332.3,222L336,220.8L340.4,218L350,206.4L363,194L368,186.6L378,176.8L378.8,178L374.1,184L363.2,196L335,230L333.9,232L334,233L336,234L350,230.2L372,228.1L390,216.9L398,208.8L408,201.9L420,198.2L430,193.2L440,191.4L444,190.2L450,187.1L452,184L451,176L452.4,168L452.4,164L449.5,146L448.8,136L450,130.7L454.6,126L455.6,124L455.5,122L452.9,114L453.8,100L453.1,98L451.3,96L450.5,90L449.3,88L446,85L398,55.6L392.9,52L391.2,50L730,50L730,550L70,550L70,404.7L72,405L76,407.7L84.4,416L92,421.7L100,429.4L106,433.7L116,443.4L122,447.7L132.6,458L136,459.8L140,460L140.7,462L141.2,470L144,474L152,480.1L162,485.2L166,486L170.7,484L172.4,482L176.9,474L183.1,468L190,464.3L194.3,460L198,457.2L224,442.6L242,436.1L266,426.5L284.9,414L292.4,406L294.4,402L294.4,398L292.9,386L291.8,380L289.7,374L284,363L282,361.3L280,360.4L276,360.1L272,362.6L225,408L214.4,420L211.2,422L202,424.9L196,429.2L188,430.7L182.9,434L180.4,438L178.5,444L178,448L179,458L178,461.7L176,463.7L172,464.6L168,463.5L158,457.3L150.6,454L150,453.1L148,452.6L146.1,454L144,454.1L144.7,452L148,450.8L148.9,450L148.3,448L145.3,444L142.4,438L132,411.3L127.6,402L124,391.6L75,318L70,311.5L70,234.5L72,235.3L76,238.5L110,261.1L115.5,264L132,276.4L136,280.6L144,285.6L148.2,286L154,287.9L158,289.9L179.4,296L192,300.9L198.1,302L212,306.7L219.6,308L236,312L248,316L252,318L251.8,320L250.7,322L244.6,328L238,335.9L226,351.9L222,356.2L220,357.1L218,356.4L216,354.6L196,334.6L189.6,330L178,318.9L176,317.4L174.8,318L176.9,326L183.6,342L186.9,352L194.9,372L198.7,380L199.8,384L199.5,386L198.4,388L195,392L190.9,398L186.3,402L183.9,406L178.8,410L177,416L173.6,420L171.5,424L166,430.3L165.5,432L166,433.9L203.2,390L212,379.9L218,374L218,376.8L203.2,406L202.8,408L204,409.2L206,408.2L272,351.4L276,348.9L280,348.2L282,346.4L288.3,338L298,329.1L300,325.9L301.5,322L302.8,312L302.9,294L297.9,270L297.2,264L297.5,258L293.8,252L278.8,222L268,208.1L262,198.9L235.3,164L229.5,158L225.3,152L219.5,146L215.3,140L209.5,134L205.3,128L199.5,122L195.3,116L189.5,110L185.3,104L179.5,98L175.3,92L169.5,86L165.3,80L159.5,74L155.3,68L149.5,62ZM532,105.9L530,106.2L527,108L523.8,112L523,114L523.3,116L525.2,118L530,120.3L534,121L536.3,120L537,118L536.8,116L534.4,108ZM542,139.9L540,140.3L538.9,142L536.8,148L536.9,150L540,155.3L542,157.3L544,157.5L546.2,154L547.5,146L546,142.3L544,140.7ZM439.7,106L440,105.6L441.3,106L440.2,108L438,108.6L438,107.9ZM394.9,158L396,157.1L396.3,158L396,158.4ZM392.6,160L394,158.6L394.6,160L390,165.3L388,166.9L388,165.3ZM381.6,174L382.1,174ZM379,176L380,175.1L380.5,176L380,176.6Z"/>
<path fill="#6cff93" d="M141.6,50L229.6,50L235.1,62L238,66L243.1,76L248,83.6L253.1,94L256,98L261.1,108L264,112L269.1,122L272,126L277.1,136L282,143.6L287.1,154L290,158L303.1,182L317.8,206L323,218L326,226.5L327.8,230L330,229.1L335,224L336,223.5L336.5,224L330.5,232L329.7,234L330.8,236L332,236.1L350,230.8L372,228.8L382,222.5L390,218.3L397.7,210L408,203L420,199.2L430,194.4L444,191.7L450,188.8L452.6,186L452.9,182L451.6,176L453.1,168L453.2,164L449.7,136L450.4,132L455.8,126L456.4,124L456.3,122L453.7,114L455.4,100L455.1,96L450.4,88L446.1,84L440,79.9L414,64.7L404,57.9L398,54.7L392.4,50L730,50L730,550L70,550L70,405.7L72,406.2L74.9,408L85.2,418L90,421.2L99.2,430L106,434.9L115.2,444L121,448L132,458.8L134,460.4L138.4,462L139.4,464L139.8,470L142.3,474L150,480.1L160,486L164,487.3L166,487.3L172,485.5L174,483.6L178.6,476L183.7,470L190,465.6L195.5,460L200,456.7L224,443L243.4,436L266,426.9L285.3,414L292.8,406L294.8,402L294.8,398L293.7,388L292.3,380L290.4,374L284,361.3L280,359L276,358.6L272,360.9L242,390.2L218,412L211.1,420L206.9,422L202,423.2L196,426.5L194,426.9L190,426.2L182,432.3L179.4,436L176.9,444L176.2,448L176.8,456L176,459.2L174,461.1L170,461.5L166,460.4L153.8,454L152.5,452L153.3,450L154.9,448L162.1,442L170.2,434L192,408.2L200,399.8L201,400L200.2,404L194.3,418L196,419.4L198,418.3L275,352L280,349.4L282,347.5L288.7,338L298,329.4L301.1,324L302.8,314L303.1,296L302.6,290L300.5,282L298.3,270L297.8,264L298.8,258L295.9,254L278.6,220L269.2,208L256.6,190L244.6,174L240,169L236.6,164L230,157L226.6,152L220,145L216.6,140L210,133L206.6,128L200,121L196.6,116L190,109L186.6,104L180,97L176.6,92L170,85L166.6,80L160,73L156.6,68L150,61ZM322,235.3L322,236.2ZM324,233.5L323.2,234L324,234.4L324.4,234ZM530,103.9L522,108L519.9,110L519.2,112L519.7,116L522,119.7L527.9,124L529.7,126L530.6,128L532.3,136L532.6,148L534.1,152L538.4,158L544,163.1L546,164.2L550,164L552.4,162L550.8,158L550.6,156L552.2,146L552,142L550,138.3L544.4,132L535.8,106L534,103.8L532,103.5ZM70,236L70.8,236L73.4,238L80.7,246L86,256L95,270L100,280L109,294L114,304L123,318L128,328L137,342L142,352L151,366L156,376L165,390L170,400L173,404L174.8,408L175.6,412L175.4,414L174.4,416L168.8,424L165.2,428L162,434L154.9,444L152,446.6L150,446.8L148,445.7L143.6,438L133.4,412L128.8,402L126.6,394L124.8,390L72.7,312L70,309.7ZM144.9,288L148,287.2L152,287.8L158,290.7L164.1,292L172,294.9L178.1,296L192,301.4L196.6,302L212,307.2L218.3,308L235.1,312L247.1,316L251,318L250.8,320L249.4,322L243,328L224.1,352L222,354.1L220,355.1L218,354.4L216,352.6L197.4,334L190,328.5L176,314.9L174,313.5L172,313.6L171.7,316L175.3,326L182,342L185.3,352L193.3,372L198,382.1L198,385.1L196.3,388L190,396.4L186,399.3L184,399.6L182,398L180.9,396L160,332.7L154.8,320L144.9,290Z"/>
<path fill="#79ff86" d="M143.2,50L228.4,50L229,52L235,64L238,68L243,78L246,82L253,96L256,100L261,110L264,114L266.8,120L272,128L277,138L280,142L287,156L290,160L295,170L298,174L303,184L306,188L316,206L322,221L323.8,226L323.9,228L322.8,230L319,234L318,236L316.2,240L318,240.6L324,238.5L330.8,238L350,231.4L372,229.4L382,223.5L390,219.8L392,218.3L394.9,214L398,210.7L408,204.1L420,200.2L430,195.5L442,193.5L446.9,192L452,189.1L453.8,186L453.8,182L452.2,176L453.8,168L453.9,162L450.6,136L451.5,132L456,127.2L457.1,124L457,122L454.5,114L457.1,98L456.7,94L449.7,86L446,83L414.4,64L404,57L398.4,54L393.6,50L730,50L730,550L70,550L70,406.5L72,407L74,408.2L84,418L90,422.2L98,430L104,434.2L114,444L120,448.2L132,459.8L137.4,464L139.1,472L142,475.4L152,482.8L160,487.4L164,488.5L170,487.9L174.3,486L185.5,470L190,466.6L196,460.5L200,457.4L224,443.5L232,440.2L244,436.2L266,427.3L285.8,414L293.1,406L295.2,402L294.6,390L292.9,380L291,374L284,359.3L276.5,356L276.7,354L282,348.6L289,338L298,329.8L300.4,326L301.9,322L303,314L303.3,296L302.8,290L300.7,282L298.5,268L298.3,264L300.1,258L299.9,256L298,254.7L296.2,252L281.4,222L246.1,174L240,167L236.5,162L230.8,156L226.5,150L220.8,144L216.5,138L210.8,132L206.5,126L200.8,120L196.5,114L190.8,108L186.5,102L180.8,96L176.5,90L170.8,84L166.5,78L160.8,72L156.5,66L150.8,60ZM312,243.7L309.5,246L308,247.7L308,248.4L310,248.2L314.2,244L314,242.2ZM316,240.6L314.3,242L316.2,242ZM532,101.5L520.7,106L517.5,108L516.2,110L516.1,112L517.2,116L528.7,136L530.1,148L534,156.3L544,166.9L546,168.2L550,168.7L556,167.4L558.5,166L560,164L560.5,162L560,158L556.7,152L556.7,146L555.8,142L542,116.7L536.9,104L535.2,102L534,101.4ZM70,238L70,237.5L72,239.1L78,248L83.2,258L92,272L97.2,282L106,296L111.2,306L120,320L125.2,330L134,344L139.2,354L148,368L153.2,378L162,392L173,412L173.1,414L172.3,416L168,422.2L163.1,428L160.6,434L152,444.9L150,445.3L148,444.1L144.7,438L134.5,412L129.9,402L128.8,396L126.6,390L74.6,312L72,308.9L70,308ZM149,290L150,288.9L152,289.1L158,291.5L161.8,292L164,293.1L168,294L170,295.1L175.6,296L190,301.5L193.7,302L200.5,304L210,307.4L216.4,308L220,309.3L225.8,310L228,311L234.2,312L246.2,316L250.1,318L249.8,320L248.3,322L241.2,328L224,350L222,352L220,353L217.7,352L198,332.4L191.8,328L176,312.6L172,310.2L170,310.9L169.4,314L170.5,318L180.3,342L183.6,352L191.6,372L196.3,382L196.5,384L195.9,386L188,395.9L186,396.4L184,394L162.7,330L157.9,318ZM247.8,380L248.4,380ZM245.6,382L246.5,382L246,382.4ZM243.2,384L244,383.4L244.6,384L244,384.5ZM240.6,386L242,385.1L242.6,386L242,386.5ZM238,388L240,386.6L240.6,388L234,393.8L233.7,392ZM231.5,394L232,393.6L233.8,394L232,395.2ZM229.1,396L230,395.3L231.3,396L230,397ZM226.6,398L228,397L229.1,398L218,407.5L217.5,406ZM215.3,408L216,407.4L217.6,408L216,409.2ZM212.9,410L214,409.2L215.3,410L211.3,414L208,418.3L205.5,420L202,420L203.5,418ZM181.9,426L183.2,426L182.3,428L180,430.3L178.6,430ZM176.6,432L178,430.4L178.5,432L174.4,446L174.7,454L174,456.6L172,458.4L168,458.7L164,457.6L156.3,454L154.7,452L155.4,450L157.2,448Z"/>
<path fill="#86ff79" d="M395,50L730,50L730,550L70,550L70,407.2L72,407.8L74,409.1L84,418.9L90,423.1L98,430.9L104,435.1L114,444.9L120,449.1L133.3,462L135.3,464L136.2,466L137.5,472L140.9,476L150,482.9L160,488.7L162,489.3L166,489.5L174,487.9L176.2,486L186.9,470L192,465.7L197.4,460L202,456.7L216,449L224,444L232,440.6L250.8,434L266,427.6L286,414.1L294.8,404L295.8,400L295.4,392L292.4,376L285.7,360L284,357.3L281.8,356L279.9,354L280.6,352L288,339.9L290,337.4L298,330.2L299.6,328L301.5,324L302.4,320L303.2,312L303.4,294L299.3,272L298.8,266L299.1,262L302.2,256L298,252.1L297.6,250L298,245.2L299.7,242L300,240.1L302,240.2L302.2,242L303,244L304,244.4L306,250.7L308,251L318,242.5L322,240.6L330,239.3L340,235.2L350,232.1L372,230.1L382,224.5L392,220.1L397.6,212L408,205.1L420,201.2L430,196.6L446,193.7L452,190.9L454,188.5L454.9,184L452.9,176L454.5,168L454.7,162L451.5,136L452.7,132L456.4,128L457.9,124L455.3,114L458.6,98L458.6,94L458,91.4L454,89.2L448,83.3L442,79.2L416,63.9L406,57.2L398,52.7ZM532,99.7L516.4,106L514.1,108L513.8,112L514.9,116L519.3,124L522,130.5L526,137L528.3,148L532,156.4L534,159.4L539,164L541.9,168L546,170.5L550,171.7L554,172L560,170.3L563.2,168L565.1,164L565.1,160L564,155L558,141L550,125.5L543.3,114L538,101.9L536,99.8ZM212.4,310L223.6,310L226,311.1L232.7,312L244.9,316L248.8,318L248.6,320L246,322.8L242,325L234,327.4L226,328.8L224,330L220,326L218,326L214,322L212,322L210,320L208,320L204,316L202,316L198,312L204.4,312L206,313L208,312.5L208,312L212,311.4ZM137.9,386L138,384L146,392L149,398L152,401L152.1,402L156,406.7L156.3,408L159.7,412L160,413.1L160.8,420L160.3,432L153.2,442L152,443.3L150,444L148,442.4L145.7,438L131.2,402L131,398L132,392.6L133.4,392L134,390L135,390L136,388L136,386.3ZM171,440L172,439.5L172.9,440L172.9,442L171.8,446L171.6,452L170.9,454L170,454.9L168,455.7L164,455.5L159.4,454L157,452L157.4,450L159.3,448L166,442.9Z"/>
<path fill="#93ff6c" d="M396.7,50L730,50L730,550L70,550L70,407.9L74,410L84,419.8L90,424L98,431.8L104,436L114,445.8L122,452L133.8,464L134.7,466L135.9,472L137.1,474L140,476.9L150,484.4L160,489.9L164,490.5L174,489.1L176,487.8L178,485.2L186.3,472L196.1,462L202,457.2L216,449.6L224.9,444L232,441L251.9,434L266,428L286,414.5L295.2,404L296.3,400L295.9,392L293.5,378L286,358.2L282.8,354L282.3,352L283.9,348L288.3,340L290,337.8L298,330.5L299.9,328L301.7,324L302.6,320L303.4,312L303.5,294L299.6,272L299.2,266L300,261.3L304.4,254L304,253.4L302,253.4L300,252.1L300.4,250L302,249L304,249.9L304.7,252L306,253L308,252.2L318,243.6L322,241.6L330,240.3L338,236.5L350,232.7L370,231.1L374,230L382,225.6L392,221.8L394,219.8L397,214L398.7,212L408,206.1L420,202.1L430,197.7L442,196L448,194.4L452,192.6L454,190.7L455.7,186L455.5,182L453.6,176L455.2,168L455.4,162L452.5,136L453.8,132L457.2,128L458.2,126L458.3,122L456.2,114L459.9,98L459.8,90L458,87.6L454,87.2L448,82L440,76.7L414.9,62L404,54.7L398.9,52ZM534,97.7L516.5,104L513.1,106L511.9,108L511.7,110L512.8,116L523.7,138L526.6,148L532.5,160L541.5,170L548,173.3L554,175.3L558,175L562,173.8L566,171.5L568.6,168L569.3,166L569,162L567.4,156L539.1,100L537.1,98ZM586,103.6L584.5,104L584.5,106L586,106.3L587.3,106L588,105.1L588.5,104L588,103.6ZM227.8,312L236.9,314L240,315.4L243,316L247.3,318L247.2,320L244,322.5L242,322.7L240.2,322L234,318.8L227.1,314ZM133.8,402L136,403.4L139.3,408L147.3,416L151.5,422L157.3,428L158.5,430L158.6,432L157.7,434L152,441.5L150.9,442L150,442.3L148,440.1L146,436L144.8,432L142,426L134,404.9ZM165.3,446L167.4,446L168,448L167.7,450L166,452.1L164,452.5L161,452L160,450L162,447.9Z"/>
<path fill="#9fff60" d="M399.9,50L730,50L730,550L70,550L70,408.8L72.7,410L84,420.8L88.8,424L98,432.8L102.8,436L113,446L120,451.1L131,462L133.3,466L134.3,472L135.4,474L139.5,478L150,485.8L160,491L164,491.5L174.3,490L176,489L178,486.7L187.2,472L196.7,462L202,457.8L225.8,444L232,441.4L252,434.4L266,428.4L286,414.8L295.5,404L296.8,400L296.5,392L294.5,380L292.2,372L289.3,366L286,355.9L284,352L284.1,350L288.8,340L290.2,338L298.7,330L301.2,326L302.5,322L303.4,314L303.7,294L300,272L299.7,266L300.2,262L304.4,256L320,243.2L330,240.9L338,237L350,233.3L370,231.7L374,230.8L382,226.8L392,223.5L394,221.9L398,214L399.8,212L408,207.1L420,203L430,198.7L442,197.2L448,195.8L452,194.2L454.5,192L456.4,188L456.6,184L454.4,176L455.8,168L456.2,162L453.5,136L454,133.8L458,128.1L458.7,126L458.8,122L457,114L461.1,98L461.5,90L461.1,86L460,83.5L458,82.9L456,84L454,84.1L450,80.6L442,75.2L435.7,72L432,69.2L415.7,60L406,53.2ZM536,95.7L532,96.5L524,99.4L516,102.5L512,104.7L510.2,108L510.9,116L521.5,138L525.1,148L530,158.4L532,161.6L538,168.6L540,170.5L554,178.3L558,178.7L564,177.1L569.6,174L572.9,170L573.4,166L572.7,162L569.2,154L561.5,140L540.3,98L538.2,96ZM588,101.6L582,103.5L581.5,104L582.2,106L586,107.4L588,107L589.4,106L590.5,104L590.2,102ZM240.6,318L243.3,318L242,318.5ZM141.7,416L144,417.6L148.6,424L154.5,430L155.5,432L152,437.4L150.8,438L150,438.3L148,434.8L147.3,432L144,424.8L142,418.9Z"/>
<path fill="#acff53" d="M464.6,50L730,50L730,550L70,550L70,409.7L73.6,412L82,420.3L88,424.6L96,432.3L103.6,438L112,446.3L119.6,452L129.6,462L131.9,466L132.5,472L135.3,476L148.1,486L158,491.4L162,492.4L172,491.4L176,490.1L178,488L188.1,472L197.4,462L204,457L216.9,450L226,444.3L234,441L252,434.9L266,428.7L285,416L294.5,406L296.8,402L297.2,400L296.7,388L293.5,374L289.1,364L285.1,350L286.3,346L289.2,340L290.7,338L299,330L301.4,326L302.7,322L303.6,314L303.8,294L300.4,272L300.1,266L300.8,262L302,259.8L306,255.2L318,245.1L322,243L330,241.5L338,237.6L348,234.3L354,233.3L372,232.1L382,228.1L392,225L394,223.8L395.5,222L397.9,216L400,212.9L402,211.3L410,207L420,203.9L430,199.8L446,197.7L452,195.7L454.4,194L456.8,190L457.4,186L457.1,182L455.2,176L455.2,174L456.7,166L456.9,160L454.6,136L455,134L458,129.5L459.3,126L459.3,122L457.8,114L462,100L463.5,84L464.5,78ZM486,134.9L485,138L486,142.7L488,142L488.4,138L488,135.8ZM536,93.9L522,98.2L514,101.7L510.5,104L509.1,106L508.6,108L508.8,114L509.8,118L517,132L523.5,148L529.6,160L537.5,170L544.3,174L552,179.8L556,181.9L560,181.9L567.1,180L571.2,178L576.2,174L577.4,170L576.6,162L575.8,160L566,144.8L542,96.7L540,94.3L538,93.7ZM582,101.7L579.7,104L580.7,106L584.2,108L586,108.4L588.4,108L590.9,106L592,104L592,101.5L590,100.1Z"/>
<path fill="#b9ff46" d="M466.4,50L730,50L730,550L70,550L70,411.6L73.3,414L82,422.5L87.1,426L96,434.5L101.1,438L112,448.5L117.1,452L127.3,462L129.8,466L130.1,472L133.2,476L148,487.3L158,492.6L162,493.4L173.7,492L176,491.1L180,486.2L188.8,472L198,462L204,457.4L217.6,450L226,444.7L234,441.4L252,435.3L266,429.1L285.4,416L294.8,406L297.2,402L297.7,400L297.4,388L294.1,374L289.1,362L286.1,350L287,346L289.6,340L299.3,330L301.7,326L302.9,322L303.8,314L304,294L300.8,272L300.6,266L301.3,262L306,256L316,247.3L320,244.6L324,243.1L330,242.1L338,238.1L348,234.9L354,233.9L372,233L392,226.6L394,225.6L396,223.6L400.1,214L402.3,212L408,208.8L430,200.9L444,199.5L450,198L454,196.2L456,194L457.8,190L458.3,186L458,182L455.9,174L457.4,166L457.6,160L455.6,136L456.1,134L458.5,130L459.9,126L459.9,122L458.7,114L462.6,102L466.2,80ZM486,131.5L483.7,134L483.6,140L486,146.9L488,147.6L489.5,142L489.9,136L488.1,132ZM528,85.8L528,86.5L530.2,88L530.8,86L530,85.3ZM536,91.6L520,96.8L510,102.4L508,105L507.1,108L507,114L507.9,118L516,133.3L522,148L528.4,160L536,170L542.5,174L548,179.1L556,184.7L560,185.1L570,182.6L578.7,178L580.9,176L581.9,172L581.2,164L580.1,160L572,150.7L568,144.4L543.5,94L542,92.1L540,91.1ZM582,99.7L580,100.3L578.3,102L578.3,104L580,106.5L584,108.7L588,109L590,108.3L592,106.4L593.3,104L593.7,102L593.3,100L592,98.4L588,98.1Z"/>
<path fill="#c6ff39" d="M467.8,50L529.4,50L529.4,78L529.2,80L525.6,86L525.6,88L526.4,90L526,91.8L516,96.3L508,102.3L506.7,104L505.2,108L505.4,116L509.9,126L514.8,134L521.5,150L529.7,164L534.7,170L543.4,176L548,181.3L554,186.1L558,187.5L568,185.9L578.2,182L595.8,172L596.5,170L595.3,168L589.4,162L578,153.6L572,146.3L552,104.4L549.9,98L551,96L554,95.9L562,97.4L574,101.7L576,103L578.1,106L582,108.8L586,109.8L590,109.4L592,108.4L593.6,106L595.8,98L597.1,96L600,93.1L612.5,84L618,79.1L624.8,74L632,65.6L638,57.7L642,51.7L642.6,50L730,50L730,550L70,550L70,428.1L76,430.9L81.5,436L86,438.9L93.5,446L98,448.9L104,454.4L108,456.9L115.5,464L120,466.9L127.6,474L144,486.3L158,493.7L160,494.2L164,494.2L174,492.8L176,492L178,490.2L189.5,472L198.7,462L203.9,458L218,450.2L226,445.1L234,441.7L242,439.4L254,435L266,429.5L285.9,416L295.2,406L297.6,402L298.2,400L298.3,390L294.7,374L289.7,362L286.9,350L287.1,348L290.1,340L299.6,330L301.9,326L303.1,322L303.9,314L304.3,296L303.7,288L302.4,282L301.2,272L301.1,266L301.9,262L306.6,256L320,245.2L324,243.7L330,242.6L338,238.6L348,235.5L356,234.3L372,233.8L392,228.1L395.6,226L397.1,224L401.2,214L403.7,212L410,208.6L420,205.5L428,202.3L444,200.9L450,199.5L454,197.9L456,196L458.2,192L459.1,186L458.8,182L456.8,174L458.1,166L458.4,160L456.7,136L460,128L460.5,124L459.6,114L463.2,104L467.3,84ZM484,130L482.5,132L481.9,134L482.4,140L486,150.9L488,153.1L490,148.3L491.3,138L491.2,134L490,130.9L488,129.3L486,129.2Z"/>
<path fill="#d2ff2d" d="M469.6,50L527.2,50L526.9,80L522,90L514,94.7L508,100L504.5,104L502.4,108L502.7,114L508,126.4L514,135.7L520,150L528.5,164L534,170.4L542,176L548,183.6L554,188.4L558,189.3L570,187.4L579.7,184L596,176.5L599.6,174L600.7,172L600.6,170L599.5,168L590,159.2L582.2,154L576.9,148L568,129.9L561.9,116L559.7,108L560,103.3L561.7,102L564,102L574,104.4L580,108.8L584,110.4L588,110.7L592,110L594,108L598,97.9L602,93.9L615.6,84L626,75.3L640,57.4L644.4,50L730,50L730,550L70,550L70,431.3L74,433.2L80,438.6L85,442L92,448.6L107,460L114,466.6L119,470L125.8,476L136,481.7L144.2,488L155.8,494L160,495.2L164,495.1L174,493.6L176,492.8L178,491.2L190.2,472L198,463.2L204,458.4L218,450.6L226,445.6L234,442.1L242,439.8L254,435.4L266,429.8L286,416.2L295.5,406L298.1,402L298.7,400L299,390L295.3,374L294,369.9L290.3,362L287.6,350L288.4,346L290.6,340L300,329.9L302.2,326L303.3,322L304.2,312L304.5,296L301.6,272L301.6,266L302.5,262L305.2,258L309.4,254L318,247L322,244.9L330,243.1L338,239.1L350,235.6L358,234.9L372,234.8L392,229.5L395.3,228L397.3,226L399.3,222L401,216L402.3,214L410,209.4L428,203.2L446,202L452,200.6L454,199.8L456,198.1L458.5,194L459.9,188L459.6,182L457.7,174L459.2,160L457.8,136L461,126L460.6,114L463.7,106L466,94.9L469.5,82ZM484,127.6L482,129.3L480.7,132L480.8,138L486,155.2L488,158.3L490,157.5L491,154L492.8,136L492.8,132L492,130L490,127.9L488,127.2Z"/>
<path fill="#dfff20" d="M492.4,50L525.1,50L525.1,78L524,81.9L522,85L520.7,86L515.3,88L509.4,96L502,103.4L495.3,108L494.2,110L498.4,116L502,119.1L504,121.9L506.7,128L512.3,136L518.5,150L528.8,166L534.5,172L540.4,176L546,184.4L552,189.4L556,190.9L570,189.2L586.9,184L598,179.4L602,176.3L603.3,174L603.6,170L602.7,168L592,158.4L583.8,152L579.1,144L573.8,132L571.3,124L570.6,112L570.9,110L572,108.1L574,107.8L584,111.6L590,111.7L592,111.4L594,110.4L595.5,108L598.4,100L599.7,98L604,94.2L616,85.5L626,77L640.7,58L644.6,52L645.3,50L730,50L730,550L70,550L70,464.6L88,468.9L91,470L96,470.9L99,472L104,472.9L113,476L118,476.9L132,481.4L136,483.4L144,489.4L158,496L162,496.2L174,494.4L176,493.7L178,492.1L190.8,472L198,463.9L202.4,460L226,446L234,442.5L244,439.5L256,435.1L268,429.1L286,416.6L295.9,406L298.5,402L299.2,400L299.7,390L295.3,372L290.2,360L288.3,350L291,340L300.2,330L302.4,326L303.5,322L304.4,314L304.8,296L302,272L302.1,266L303,262L305.8,258L312,252.3L318,247.5L322,245.5L330,243.6L338,239.6L350,236.2L358,235.5L368,236.1L374,235.7L394,230.3L396,229.3L398.7,226L402.1,216L403.5,214L410.3,210L428,204.1L446,203.5L453,202L456,200.3L458.8,196L460.7,190L460.5,182L458.8,174L459.9,158L458.8,138L459.3,134L460.8,130L461.5,126L461.2,116L461.6,114L464.9,106L467.6,94L472,82.7L478,78.3L484,70.2L490,57.2ZM382,257.9L376,263.1L374,266L374,268.1L376,268.4L376.5,268L384.3,260L384.5,258ZM484,125.3L482,126.5L479.6,130L479.1,134L479.6,138L486,159L488,161.2L490,161.5L492.6,160L493.5,158L493.4,144L494.9,134L495,130L493.9,128L490,125.2L486,124.8Z"/>
<path fill="#ecff13" d="M495.1,50L510,50L509.9,80L509.3,82L506,85L504,86L504.2,88L507.3,90L508.3,92L507.4,94L502.4,100L496,104.2L486.4,106L481,108L480.8,110L485.3,114L486.7,116L486.7,118L485.4,120L480,125.7L478.7,128L478,130L477.8,134L478.8,140L485.2,160L486.5,162L490,163.6L494,163.4L496.9,162L497.7,158L495.6,148L495.4,142L498.1,130L497.6,124L500,122.7L502,123.6L505.3,130L510.1,136L516.9,150L527.6,166L532,170.7L538.7,176L540.2,178L543.1,186L545.3,188L551.7,192L556,192.6L572,190.4L596,184.1L600,182.1L604.9,178L606.5,174L606.5,170L605.9,168L604.4,166L588,152L584.2,144L582.1,134L581.6,122L582.3,116L584.4,114L592,113.3L594.7,112L596.4,110L600.2,100L604,96.1L616,87.6L626,78.8L630.6,72L641.6,58L645.5,52L646.2,50L730,50L730,550L70,550L70,467.8L102.9,476L124,482.3L134,484.1L142.4,490L158,497L162,497.1L174,495.2L176,494.5L178,493.1L191.4,472L198.4,464L203,460L226.8,446L234,442.8L243.8,440L256,435.5L268,429.4L286,416.9L296.2,406L299,402L299.7,400L300.4,390L295.3,370L290.8,360L288.9,350L291.5,340L300.5,330L302.7,326L303.8,322L304.6,314L305,296L302.6,272L302.7,266L303.6,262L308.4,256L318,248.1L324,245.3L332,243.4L340,239.4L348,237.2L354,236.3L360,236.2L368,237.4L374,237L392,232.5L396,231L398,229.3L400.1,226L403.1,216L404.8,214L412,209.9L420,207.8L428,204.9L446,204.9L454,203.4L456.5,202L460.2,196L461.7,190L461.5,182L459.7,172L460.8,158L460,138L461.9,128L462,116L466.1,106L468.3,96L472,87.6L474,85.1L478,82.6L486.7,70L493,56ZM382,255L377.5,258L372.1,264L370.5,268L371,270L372,271.1L374,271.9L376,271.5L378,270.1L387.5,260L388.1,258L387.6,256L386,254.7L384,254.4Z"/>
<path fill="#f9ff06" d="M497.3,50L506.7,50L506.6,80L505.8,82L504,83.3L498,84.8L496,84.7L492,83.5L486.9,84L487.2,86L496,87.4L502.1,90L503.9,92L503.5,94L501.1,98L499.2,100L496,102L477.2,106L474.6,108L475.1,110L480.5,116L480.8,118L480.4,120L476.9,128L476.4,134L477.5,140L481.2,150L483.9,160L486,163.2L488,164.5L492,165.7L498,166.3L500,165.7L501.1,164L501.3,158L497.9,146L497.6,142L500,133.4L502,131.2L504,132.5L508,137.2L516.5,152L526.5,166L532,171.8L537,176L538.1,178L538,180L536.8,182L534,185.5L532,186.7L524,185.1L517.2,182L514,181.2L512,181.4L511,182L510.3,184L511.7,186L514,186.6L520,186.8L522,188.2L526,192.9L528,194.2L530.4,194L536,191.2L538,190.8L542,191.8L546,194.2L550,195L571.9,192L598,186.2L602,184L607.6,180L616.9,172L615.3,170L612,168.2L599,158L595.3,154L594.1,152L593.4,148L592.7,130L593.9,122L596,117L598,115.5L600,115.1L606,115.5L612,116.8L616,118.4L618,118.1L618.5,114L620,110L620.5,102L622,98L622.5,90L624.6,84L631.5,72L642.5,58L646.3,52L646.9,50L730,50L730,550L70,550L70,474.1L80,477L92.7,482L96,482.7L102,482.7L106,484.1L114,484.7L126,488.9L128,488.3L131.3,486L134,486L142,491.2L158,498.1L162,498L174,496L178,494L180,491.5L190.5,474L199,464L203.7,460L227.7,446L234,443.2L244,440.3L256,436L268,429.8L286,417.3L296.6,406L299.5,402L300.2,400L301.1,390L295.9,370L291.3,360L289.4,350L292,340L300.8,330L303,326L304,322L304.9,314L305.3,296L303.1,272L303.3,266L304.2,262L306,259.2L309.1,256L319.2,248L324,245.9L332,243.9L340,239.9L348,237.8L354,237L360,237L368,238.7L374,238.4L396,232.6L398,231.2L400.3,228L402,224L404.1,216L406.1,214L413.4,210L420,208.5L428,205.7L447.9,206L456,204.3L458,202.9L461.6,196L462.9,190L462.6,182L460.8,172L461.7,158L461.4,136L462.6,128L463.1,116L467.2,108L469.1,98L470.6,94L474,88.7L481.4,84L481.2,82L481.8,80L488.4,70L489.8,66L494.9,56ZM384,251.7L380,253.1L372,260.5L367.2,268L365.9,272L366,274.4L368,275.3L372,274.9L376,273.7L378.6,272L388.7,262L390.4,258L390,255.2L388,252.7Z"/>
<path fill="#fff900" d="M647.6,50L730,50L730,550L92,550L92,542L90,542L88,540L88,520L90,518L92,518L92,500L90,500L88,498L92,497.3L92.7,494L94,493.8L94.3,492L97.9,488L100,487L102,486.8L112,487.5L116,488.8L120,491.1L126,491.1L132,487.9L134,487.9L142,492.7L154.2,498L158,499L164,498.5L176,496.2L178,494.9L180,492.5L192,472.9L199.6,464L204,460.2L228.6,446L234,443.6L244,440.7L256,436.4L268,430.2L286,417.6L297,406L300,402L300.8,400L301.7,390L296,368.4L291.3,358L290,350L292.6,340L301.1,330L303.3,326L304.3,322L305.1,314L305.5,294L304.2,282L303.7,270L304.2,264L306,260L312,253.9L320,248.1L325.4,246L332,244.5L336.2,242L341.8,240L350,238.1L356,237.6L360.8,238L368,240.1L372,240.2L380,239L396,234.2L398.9,232L401.5,228L405.2,216L407.4,214L414,210.4L420,209.2L428,206.6L448,207L456,205.8L459.3,204L463.2,196L464.1,192L463.9,182L461.9,170L462.8,158L463.5,120L464.2,116L466,112.7L468,110.5L470,109.9L472,111.5L476.2,116L477.1,118L476.9,122L475.1,130L475.3,136L482.8,160L485.1,164L488,165.8L496,168.4L500,168.8L502.8,168L504,164.4L504.2,160L503.1,152L503.2,148L502,146.5L500.5,142L502,137.6L504,137.8L505.4,140L505.8,142L505.6,146L510,146.8L512,148.2L525.2,166L535.4,176L536.1,178L535.3,180L532,183.1L530,183.7L526,183.4L514,179L512,178.9L510,179.6L508.3,182L508.3,184L510,187L512,188.1L518,188.9L520,189.7L526,196.8L528,197.4L532,197L538,194.5L540,194.2L546,197.5L550,198L560,195.2L572,193.4L598,188.1L602,186.5L617.7,178L623.2,174L624.9,172L625.4,170L624,168.1L611.8,162L606.8,158L605.3,156L604.6,154L604.2,150L603.8,138L604.1,134L606.1,126L607,124L608,123.2L612,122.7L618,123.7L620,123.2L620.7,122L621.4,116L623,110L623.4,104L625,98L625.4,92L628,80L632,72.6L643.3,58L647.1,52ZM380,248.8L370,259.1L360.9,272L360,274L359.8,276L362,278.6L366,280L368,279.6L376,275.8L381.3,272L390,264.1L391.4,262L392.5,256L391.2,252L388.9,250L386,248.6L382,248ZM499.9,54L500.4,54L501.4,56L501.7,60L501.6,78L500.8,80L496.4,82L486,81.5L484.2,80L489.1,72L494,61.1L498,55.6ZM476.5,90L480,88.3L482,88L490,88.8L495.8,90L498,91.1L499.3,92L499.7,94L497.8,98L494,100.6L486,102.8L472,105.3L470,103.8L470,100L470.5,98L472.4,94Z"/>
<path fill="#ffec00" d="M647.9,52L648.4,50L730,50L730,550L102.6,550L103.5,548L106.8,544L107.4,542L107.3,538L106,532.9L102,531.8L100.7,530L102,528.2L106,527.3L106.9,526L108.5,522L109.7,516L109.7,514L106,511.7L104.5,510L104.6,508L106,507.3L108,507.8L110,509.4L112,510.1L114,508.7L116,505.9L118.2,498L118,494.2L117.9,496L115,498L112,498.1L110,497.1L105.5,494L104.1,492L104,490L110,488.9L114,489.6L117.3,492L118,494L120,494.9L122,493.5L127.6,492L132,489.8L134,489.7L142,494L154,499.1L158,500L164,499.4L176,497L178,495.8L180,493.5L191.7,474L200,464.1L204,460.7L225.4,448L232,444.8L256,436.8L268,430.6L288,416.2L300.5,402L301.4,400L302.3,394L302.1,388L296.5,368L291.8,358L290.5,350L293.1,340L302.6,328L304.6,322L305.4,314L305.8,294L304.7,282L304.5,268L305.6,262L306.8,260L310.4,256L318,250L321.7,248L332,245.1L338,241.8L346,239.6L352,238.6L358,238.5L362,239.4L368,241.7L376,242.1L377.9,244L376,248L367.5,258L357.5,272L355.8,276L356.1,278L357.6,280L360,281.3L364,282.4L368,281.9L381.7,274L390,267.6L393.1,264L394.4,258L394,251.8L392,248.8L384.9,244L383,242L384.7,240L396,235.8L398,234.7L400,232.7L403.4,226L405.1,218L406.3,216L408,214.6L414,211L420,209.8L426,207.7L428,207.3L448,208.1L456,207L460,205.7L461.5,204L463.3,200L464.9,196L465.7,192L465.3,180L463.2,168L465.5,136L464.1,124L464.9,118L466,115.6L468,113.9L470,114.1L472,115.8L474.3,120L474.4,124L473.3,132L473.7,136L481.6,160L484,164.5L486,166L496,170L504,171.6L506.1,170L506.5,154L508,151.7L510,151.1L512,151.9L521,162L525.6,168L533.9,176L534.3,178L533.2,180L530,182L526,181.8L518,178.4L512,176.6L510,176.6L508,177.9L506.7,180L506.4,184L506.9,186L508.3,188L510,189.3L518,191.1L520,192.6L522.2,196L524.2,198L530,199.1L534,198.6L540,196.9L546,200L550,200.1L560,197L600,189.1L620.1,180L628,174L629.9,170L629.7,168L627.9,166L620.4,162L616.3,158L615.4,156L614.9,150L615,144L615.7,140L618.4,130L622,126L622.5,124L623,116L624.7,110L625,104L626.7,98L627,92L628.7,86L629.2,80L629.9,78L632,74L643,60ZM491.7,74L492,73.5L493.6,74L493.9,76L492.6,78L490,78L490,76ZM478,92L484,90.5L490,91.1L492.6,92L494,93.6L494.4,96L493.3,98L488,100.6L482,101.9L474,102.4L473,102L472,100.5L472.3,98L474,95Z"/>
<path fill="#ffdf00" d="M649.4,50L730,50L730,550L104.8,550L109.3,544L109.8,542L109.3,530L111.8,522L113.1,514L117,508L120,499.4L122,495.9L132,491.4L134,491.4L142,495.3L156,500.8L162,500.6L176,497.8L178,496.6L180.4,494L192.3,474L200,464.7L204,461.2L226,448.1L232,445.2L256,437.3L268,431L286.4,418L299.5,404L302,400L303.1,390L297.1,368L292.3,358L291,350L293.6,340L302.9,328L304.9,322L305.7,314L306.1,294L305.2,270L305.8,264L307.5,260L311.2,256L316,252L323.4,248L332,245.7L338,242.5L346,240.3L352,239.4L358,239.4L360.5,240L366,242.9L370,244.2L372.5,246L372,248L370.7,250L364.3,258L359.4,266L352.9,274L352,278L352.5,280L354.1,282L356,283.2L360,284.4L364,284.6L367,284L381.6,276L391,270L394,267.4L395.8,264L396.4,252L395.2,248L391.7,244L390.6,242L391.7,240L398,236.7L400.5,234L404,226.9L406.1,218L407.4,216L414,211.6L420,210.5L426,208.4L450,208.9L458.2,208L460,207.6L462.4,206L467.2,194L466.9,178L465.1,170L464.7,166L466,150L468.3,140L470,136L472,137.9L476,146.8L480.2,160L482,164L483.8,166L486,167.2L503,174L504.9,176L503.3,186L503.8,188L506.6,190L516,194L520.4,198L526,200.1L532,200.6L540,199.8L546,202.1L550,202L562,198.3L602,190L620,183.2L624,181L630.5,176L633.1,172L634,168L633.7,166L632,163.9L627.3,160L626.3,158L625.9,154L626.8,148L631,132L626,127.5L625.1,126L624.3,122L624.5,116L626.1,110L626.5,104L628.1,98L628.5,92L629.7,88L630.7,80L631.3,78L634,72.9L646.8,56L649.1,52ZM481.6,94L486,94L488,95L488.8,96L488,98L482.3,100L476,99.9L475.1,98L476.4,96ZM467,118L468,117.1L470,117.7L471.8,120L472.5,122L472,129.1L470,133.3L466,129.9L465.4,128L465.3,122L466,119ZM511.1,156L512,155.9L514,157.4L520,162.5L524.2,168L532.4,176L532.6,178L530.8,180L528,180.8L526,180.5L512,174L510,172.3L508,168.4L507.6,166L509.2,158L510,156.2ZM107.3,492L110,490.6L112,490.7L114.8,492L115.5,494L114,496L112,495.8L108.8,494Z"/>
<path fill="#ffd200" d="M651.4,50L730,50L730,550L107.8,550L111.4,546L112,544L111.9,532L115.3,522L115.9,514L119.1,508L121.5,500L124,496.6L130,493.7L134,493.1L156,501.9L164,501.1L176,498.6L178,497.5L181,494L192.9,474L199.4,466L204,461.7L226,448.5L232,445.6L256,437.7L260,436L268,431.4L288,417L301.7,402L302.7,400L303.3,396L303.8,392L303.4,388L297,366L292.8,358L291.8,354L291.5,350L294.2,340L301.9,330L304.8,324L305.8,316L306.6,296L305.9,282L306.4,266L307.4,262L308.5,260L314.5,254L320.7,250L325.4,248L332,246.5L340,242.6L352,240.2L358,240.5L361.9,242L364.6,244L366.8,246L367.5,248L366.7,250L361.4,258L358.1,264L348.9,274L347.9,278L348.3,280L349.3,282L351.3,284L354.6,286L358,286.7L366,285.9L392,272L396.4,268L398.1,264L398.4,250L396.5,242L397.3,240L402,233.7L405.2,226L407.1,218L408.6,216L414,212.3L426,209.2L448,209.9L458,209.2L462,208.5L464.7,206L468.6,196L469.2,192L468.6,186L468.9,178L466.6,166L467.6,152L468,149.4L470,144.7L472,143.9L474.7,148L478.4,160L481.4,166L484,167.6L499.3,174L501.7,176L502.3,178L501.6,182L500.2,186L500.7,188L503.1,190L512,194L520,199.5L528,201.7L538,202.3L548,204.1L564,199.5L608.4,190L622,185.2L630.1,180L635,176L637.4,172L638.7,168L638.7,164L637.6,160L637.5,158L641.5,142L642.4,140L644,138.1L648.2,136L644,134.6L638,129.3L634,127.1L630.1,126L628,124.5L626.8,122L626.6,118L628.4,110L628.6,106L630.4,98L633,80L634,76.8L636,73.4L639,70L649.1,56L651.1,52ZM466.9,122L468,120.4L470,121.5L470.7,124L470,127.8L468,128.4L466.6,126L466.4,124ZM510.4,162L512,160L514,160.1L518,162.4L520,164.3L524,169.8L530,175L530.8,176L530.7,178L528,179.3L526,179L520,175.2L514,172.8L512,171.4L509.6,168L509.3,166Z"/>
<path fill="#ffc600" d="M668.4,50L730,50L730,550L120.2,550L115.9,544L115.2,534L116.1,530L118.9,524L119.2,514L121.4,508L122.7,502L125.2,498L130,495.3L134,494.8L152.5,502L156,502.9L168,501.3L176,499.4L178,498.3L181.7,494L193.5,474L199.9,466L204.2,462L210.3,458L232,445.9L256.4,438L260.9,436L268,431.8L288,417.4L302.3,402L303.3,400L304,395.9L304.4,392L304,388L297.6,366L294,359.4L292.7,356L292,350L294.7,340L303.5,328L305.1,324L306.5,312L307.2,294L306.7,282L307.6,266L308,263.6L309.6,260L313.4,256L316,253.8L322.9,250L328,248.1L332,247.4L338.5,244L346,242.1L356,241.4L358.8,242L361.9,244L363.4,246L363.9,248L363.6,250L356.5,262L352.9,266L344.7,272L343.6,274L343.5,276L344.4,280L347,284L352,287.2L356,288.5L362,288.1L368,286.4L394,272.7L397.2,270L399.5,266L400.2,250L399.5,242L406,226L408,218.1L409.8,216L414,213.1L426,209.9L448,210.8L460,210.3L464,209.4L466,207.5L471.1,194L470.3,184L471.2,176L469.2,168L468.8,164L470,150.5L472,148.4L474,151.1L476.1,160L479.3,168L490,170.8L496.7,174L499.3,176L500.2,178L500.2,180L499,186L499.4,188L501.2,190L512,195.2L518.4,200L528,203.2L548,205.7L564,201.1L596,193.6L612,191.4L618,189.5L624,186.8L638,177.5L649.2,172L651,170L651.1,168L650,162L653.2,148L653.9,146L656,144.2L660.2,142L660.5,138L662.3,130L666,118.9L668.3,108ZM511.7,164L514,162.5L518,164.2L520.6,168L521.2,170L520.6,172L518,172.1L513.3,170L511.6,168L511.2,166ZM523.6,174L524,173.5L526,173.5L528.6,176L528,177.1L526,176.9L524.7,176Z"/>
<path fill="#ffb900" d="M670.2,50L730,50L730,550L122.2,550L120,542L119.4,534L120.3,530L122.9,524L122.6,516L124.5,504L126,500.6L128,498.5L132,496.7L134,496.6L144.7,500L152,503L156,503.8L168,502.1L176,500.2L178,499.1L182,494.6L194.1,474L200.5,466L204.8,462L226,449.4L232.7,446L252,440.1L262,435.9L268,432.2L287.7,418L294,410.9L303,402L304,400L304.9,394L304.6,388L298.2,366L293.3,356L292.5,350L295.3,340L303.8,328L305.4,324L306.9,314L307.7,282L308.8,268L310,262L312,259L315,256L318,253.9L325.7,250L334,247.7L338,245.4L342.5,244L354,242.5L359.1,244L360.9,246L361.4,248L360,251.7L354,261.5L352,263.6L341.4,270L340.2,272L340.1,276L342,282L343.3,284L346,286.3L349.4,288L355.6,290L364,288.7L368,287.4L380,280.9L394,274.4L397.3,272L400,268.7L401.3,264L401.8,250L401.3,242L401.7,240L406.8,226L408.2,220L409.2,218L411.1,216L413.7,214L416,213.1L428,210.5L450,211.6L462,211.4L466,210.2L468,208L473.2,196L473.4,192L472.3,184L474,177.6L476,174.9L482,171.3L486,170.8L490,171.8L494.6,174L497.2,176L498.3,178L498.4,180L497.9,186L498.4,188L499.9,190L504,192.6L511.5,196L518,200.8L530,205.5L546,207.3L550,206.9L562,203.1L598,194.4L610,194L616,192.8L624,189.4L632,183.8L638,180.3L650,175.3L658,169.1L664.3,166L663.5,160L664.8,154L665.5,152L666.9,150L669.8,148L669.8,146L664.1,140L663.7,138L665.5,130L668.6,120L670.2,108ZM514.6,166L516.4,166L517.4,168L516,168.4L515.2,168Z"/>
<path fill="#ffac00" d="M671.6,50L730,50L730,550L123.6,550L124.4,542L123.8,532L126.1,526L126.9,522L126.3,516L126.8,506L128,502.1L129.8,500L132,498.9L136,498.8L152,504.3L156,504.8L168,503L176,501L178,500L182,495.6L194.6,474L201,466L205.4,462L226,449.8L233.6,446L252,440.5L262,436.4L288,418.1L294,411.3L303.7,402L304.7,400L305.5,394L305.3,388L298.8,366L293.8,356L292.9,350L295.9,340L304.2,328L306.3,322L307.5,314L308.9,282L310.6,268L312.1,262L314,259.2L317.5,256L324.9,252L334,249.1L342,245.7L352,244.1L356,244.7L358.2,246L358.9,248L358.3,250L352,260.1L348,263.2L340,266.6L338,268.9L336.9,272L337.4,278L340,284.1L341.7,286L344.7,288L352,290.5L358,291L366,289.2L382,281.1L393.8,276L399.3,272L402,267.5L402.6,264L403.2,252L403.2,240L409.3,220L410.4,218L412.4,216L415.6,214L426,211.6L462,212.7L466,212.1L468,211L470.4,208L476,198L476.7,194L475.2,186L476,181.7L479.8,176L484,172.7L486,172.1L492,173.7L495.2,176L496.3,178L497.4,188L498.8,190L502,192.3L510,196.1L518,201.8L528,206.8L534,208.3L546,208.9L550,208.4L560,205.3L588,198.7L598,195.8L610,196.2L616,195.3L624,192L632,186L638,182.7L651.7,178L660,173.8L662,173.8L667.6,176L670,176.3L672.1,176L680,172.7L684,173.2L686,174.3L687.4,174L677.8,164L676.8,162L676.6,160L678,156.4L681.9,154L682.5,152L673.4,126L671.4,118L671.1,114L671.6,106Z"/>
<path fill="#ff9f00" d="M673.4,50L730,50L730,126.7L727.2,132L721.2,150L718.8,160L718,168L720.1,178L723.6,184L726,185.2L730,184.6L730,550L125.5,550L126,548L128.6,544L128.9,542L128.1,532L130.7,522L129.8,506L130.4,504L131.9,502L134,501.1L136,501.1L140.8,502L152,505.6L156,505.8L170,503.4L178,500.8L182,496.7L195.2,474L201.6,466L206,462L226.5,450L234,446.2L252,440.9L262,436.9L288,418.5L294,411.7L304.4,402L305.3,400L306.1,394L305.9,388L299.4,366L294,355L293.4,350L297.4,338L304.5,328L306.8,322L307.9,316L309.8,286L311.3,274L314,263.7L316,260.4L318.6,258L325.6,254L330.6,252L334,251.2L341.1,248L352,246.4L354,246.9L355.3,248L354.9,250L350,258.1L346,260.9L337.4,264L335.5,266L333.9,270L333.6,274L336,282.6L338.4,286L340.6,288L346,290.4L356,292.3L364,290.7L368,289.4L380,283.1L394,277.1L400,273.1L403.1,268L404.7,254L404.7,240L410,221.1L411.8,218L413.9,216L416,214.9L426,212.5L462,214L466,213.7L469.9,212L476,205.6L478.3,202L479.6,198L480.1,194L479.3,186L479.6,184L483.5,176L486,173.9L490,174.1L493.1,176L494.3,178L494.6,182L496.3,188L497.7,190L500,191.9L510,197.1L516,201.6L528,209.1L532,210.2L538,210.6L550,210.2L564.5,206L588,200.8L598,197.6L602,197.6L610,198.7L616,197.9L624,194.9L633,188L638,185.3L642,183.9L660,179.6L670,180.5L680,178.5L688,180.5L692,180.7L698,179.8L704,179.9L708,179.3L712,177.8L714,176.3L715.7,174L717,170L716,169.4L715.5,168L712,165.4L710,165L708,165.6L698,170L695.7,170L693,168L690.7,164L690.5,162L692,160.7L696,159.1L696.7,158L695,156L690,154.3L688,153L685.2,150L682,142.1L674,118L673,112Z"/>
<path fill="#ff9300" d="M487.4,176L490,175.9L491.7,178L491.6,182L496.4,190L498.8,192L510,198.1L520.8,206L526,210.6L530,212.1L538,212.9L550,213L560.6,210L596,202.1L600,201.7L610,202.3L618,201.1L624,198.9L628,196.7L636.3,190L641.1,188L648,186.7L682,183.7L708,185.3L712,184.4L716,182.5L718,182.3L720,183.4L724,186.8L730,186.1L730,550L132.8,550L132.5,530L134.3,524L135.7,516L137,514L140,511.2L146,507.3L156,506.8L166,505.1L174,503.2L178,501.6L182,497.7L195.8,474L202,466.2L206,462.5L213.1,458L234,446.6L252,441.4L262,437.4L288,418.9L296,410L305.1,402L306,400L306.8,394L306.5,388L300,366L294.2,354L293.9,350L297.9,338L304.9,328L307.4,322L308.9,314L311.7,280L313,274L314,271.7L316,269.3L318,268.3L324,267.7L328,269L330,272.6L333,282L334.1,284L337.6,288L340.4,290L344,291.5L354,293.3L358,293.2L368,290.4L380.5,284L396,277.4L400.8,274L402.5,272L404.4,268L406.1,256L406,242L406.5,238L408,231L410,225.1L412,220L413.6,218L416.3,216L428,213.4L462,215.4L466,215.3L470.1,214L478,208.5L480.7,204L483,196L483.8,186L486.6,180L486.5,178Z"/>
<path fill="#ff8600" d="M488.2,186L490,185.4L492,186.7L494.6,190L497.1,192L510,199.6L518.2,206L523.9,212L526,213.2L532,214.8L544,216.2L550,218.9L552,219L594,209.6L610,208.5L620,206.4L630,202.8L640,196.2L646,194.3L676,189.6L690,188.9L708,190L712,189.4L718,186.9L724,188.5L730,187.1L730,550L135.5,550L136.2,530L140,518.2L143.4,514L150,509.2L170,505.2L178,502.4L182.5,498L196.4,474L202,466.8L206,463L213.8,458L234,447L252,441.8L262,437.9L288,419.3L296,410.5L305.8,402L306.7,400L307.4,394L307.1,388L299.8,364L294.8,354L294.4,350L298.5,338L305.3,328L309.2,318L312.6,282L313.9,276L316,272.9L318,272L322,271.6L326,272.9L328,275.3L332,284.2L335.1,288L337.6,290L344,292.9L354,294.5L358,294.3L368,291.3L382.9,284L397.2,278L402.5,274L404,271.8L405.6,268L407.6,256L407.8,242L408.9,234L412,224L414,220.2L416,218.1L421,216L428,214.8L458,217L466,216.9L470,215.9L477.5,212L481.1,208L483.9,202L485.8,196L487.2,188Z"/>
<path fill="#ff7900" d="M724.3,190L730,188.1L730,550L137.1,550L138.9,540L139.3,532L140.5,528L144.8,518L150.4,512L154,509.8L170,506.1L178,503.2L180,501.8L183.2,498L189.6,486L197,474L201.5,468L206,463.5L214.6,458L234,447.4L252,442.2L260,439.3L264,437.2L276,428L288,419.7L296,410.9L300,407.3L304.8,404L306.6,402L307.4,400L308,394L307.7,388L300.4,364L295.3,354L295,350L299,338L306.7,326L310.1,318L313.8,282L314.8,278L316,275.7L318,274.5L320,274.2L324,275.1L326.6,278L331.2,286L336,290.7L340,292.9L344,294.2L354,295.7L358,295.5L368,292.3L384,284.7L396,279.7L402.1,276L404,274L406.2,270L409.5,254L409.7,242L411.3,232L414,224.6L417.2,220L420.6,218L428,216.3L456,218.9L466,218.6L470,217.7L478,213.9L482,210.2L485.3,204L490,192.5L492,191.1L498,193.8L508.2,200L515.4,206L522,213.5L524,214.9L541.2,220L548,225.3L552,226.4L570,223L596,216.7L608,215.4L620,212.8L635.1,208L642,203.9L646,202.3L660,199.5L674,195.8L688,194.3L710,194.1Z"/>
<path fill="#ff6c00" d="M727.9,190L730,189.4L730,550L138.7,550L141.3,542L142.9,532L144,528.7L146,524L152.2,514L153.9,512L157.4,510L172,506.4L176,505L180,502.7L184,497.7L196.2,476L202,468.1L206.1,464L212,460L234,447.8L252,442.7L264,437.7L276.6,428L288,420.1L298,409.5L305.6,404L307.3,402L308.1,400L308.7,394L308.3,388L301,364L295.9,354L295.5,350L299.6,338L307.2,326L311,318L314,289.3L315.7,280L318,277.1L320,276.8L322,277.4L324,278.9L330.8,288L336,292.4L344,295.5L354,297L358,296.7L368,293.4L386,284.9L397.9,280L403.7,276L405.4,274L407.4,270L411.2,254L411.8,242L413.7,232L416,226.1L418.8,222L422,219.8L428,218.3L456,221.1L466,220.5L470,219.6L478,216L482,213.2L484.6,210L492,196.2L494,194.9L496,194.9L498.9,196L507.9,202L514.3,208L522,216.7L531.4,220L538.8,224L548,232.5L550,233.2L554,233.5L570,231L598,223.9L608,222.1L624,218.2L638.5,214L648,209.9L660,206.7L678,201L714,197.7L722,194.4Z"/>
<path fill="#ff6000" d="M729.7,192L730,191.9L730,550L141.5,550L146.5,532L148.2,528L152.1,522L155.3,514L157,512L160,510.6L174,506.6L180,503.5L184.5,498L189.7,488L196.8,476L202,468.8L206,464.7L212.7,460L234.6,448L252,443.2L264,438.3L277.1,428L288,420.6L298,410L306,404.4L308.1,402L309.1,398L309.4,392L308.9,388L301.6,364L296.6,354L296.1,350L301.1,336L309,324L311.9,318L314,296.5L316,288.4L318.5,282L320,281.3L322,282.3L332.6,292L338,294.9L346,297.3L356,298.3L360,297.5L368,294.5L398,281.1L404,277.2L407.9,272L413,254L414.2,242L416,234L418,228.6L421.6,224L424.9,222L430,221.1L438,221.5L456,223.7L466,222.9L472,221.2L480,217.5L484.8,214L488.2,210L494,200.5L496,199L498,199.1L499.7,200L508,206.4L514,211.9L520,219.1L524,221.5L530.3,224L534.9,228L544.7,238L549.8,240L556,240.3L562,239.8L572.7,238L640.3,220L660,214L680,206.5L716,201.8L722,199.7L725.1,198L728,193.5Z"/>
<path fill="#ff5300" d="M716.2,208L722,207.2L724,209L725.2,212L726.8,214L730,214.6L730,550L146.5,550L146.2,544L148,537L150.1,532L155.6,524L158.1,514L160.4,512L178,505.7L182,502.5L185.2,498L190.3,488L197.4,476L201.6,470L206,465.3L213.5,460L235.7,448L252,443.6L264,438.8L277.7,428L288,421.1L298,410.5L306,405.2L308.9,402L309.9,398L310,392L309.5,388L302.2,364L297.3,354L296.7,350L302.6,334L312,320L313.1,316L313.9,304L314.9,298L316,293.6L318,290.6L322,289.2L326,289.3L334,294.9L340,297.3L346,298.9L356,299.7L360,298.8L370,294.8L400,281.2L406,276.8L409.3,272L415,254L418,240L421.1,232L424,228.8L432,225.2L438,224.9L456,227.3L466,226.6L472,225L490,216.7L508,215.1L510,215.7L512,217.2L530,236.8L534,241.8L536,243.2L540,244L558,244.6L573.9,242L614,230.7L658.1,220L682,212.2Z"/>
<path fill="#ff4600" d="M702.8,216L720,214.6L725.1,216L730,216.4L730,550L148.4,550L148.7,544L150,539.5L152,535.3L156,529.9L158,526.2L160,516L161.2,514L164.2,512L178,506.6L182,503.5L185.8,498L190.9,488L198,476L202,470.3L206,465.9L214.4,460L236,448.4L250,444.7L264,439.4L278.4,428L288,421.5L298,411.1L302,408L308,404.4L309.8,402L310.7,398L310.7,392L310.2,388L302.8,364L298,354L297.4,350L303,334L312.9,320L313.9,316L314.9,304L316,298.2L318,294.1L320,292.6L324,291.7L326,291.9L334,296.9L340,299.1L346,300.7L356,301.2L364,298.7L400,282.4L406.4,278L409.7,274L413.8,264L420,245.6L424.8,236L428,232.6L434,229.9L440,229.6L452,231.7L468,231.5L473.3,230L482,225.9L492,222.1L504,220.9L506,221.3L508,222.5L516,229.6L532,246.8L536,248L558,247.9L572,245.5L614,233.7L634,228.7L662,223.6L684,217.9Z"/>
<path fill="#ff3900" d="M726.1,218L730,217.8L730,550L149.8,550L150.5,546L152.8,540L159.7,530L162.9,516L164.5,514L166,513.1L178,507.6L182,504.5L186,498.9L191.5,488L198,477.1L202,471.2L206.6,466L211.9,462L234,449.8L238.6,448L252,444.6L264,440L279.1,428L290,420.5L296,413.6L300,410L307.2,406L309.6,404L310.9,402L311.6,398L310.9,388L302.7,362L298,352L298,350L300.5,344L303.4,334L311.3,324L313.7,320L314.8,316L316.4,302L318,297.5L320,295.4L324,294.1L326,294.3L334,299L342,301.7L348,302.7L356,302.7L362,301L380,293L386,289.8L398,284.8L404,281.4L410.1,276L412.3,272L418,257.6L422,249.3L430,238L432.6,236L436,234.5L440,234.3L450,236.3L470,236.7L476,234.6L484,230.5L488,229.1L496,227L502,227L504,227.8L512.8,234L526,248.2L530,251.1L536,252.2L556,251.2L562,250.6L572,248.4L614,236.7L636,231.3L664,227.8L688,223.4L720,221.3Z"/>
<path fill="#ff2d00" d="M727.4,220L730,219.6L730,550L151.7,550L154.9,542L160,536L162,532.4L163.5,522L165.7,516L167.8,514L180,507.3L183.4,504L186.1,500L192,488.3L198.1,478L202,472L207.4,466L216.3,460L234.7,450L252,445.2L264,440.6L279.8,428L290,421.1L296.4,414L300,410.9L308,406.5L310.9,404L312.7,400L312.8,398L311.6,388L303.4,362L298.9,352L298.9,350L301.4,344L303.9,334L312.2,324L314.7,320L318,302.3L320,298.8L321.1,298L324,297L326,297.2L334,301.4L344,304.4L348,304.7L356,304.4L362,302.8L400,285.5L404,283.2L410.6,278L413.4,274L417.4,266L420.6,258L424,252.2L434,241.7L438,239.4L440,239.3L448,241.1L456,241L470,242.3L480,238.7L488,234.6L494,233.1L498,232.7L502,234.1L510,238.8L522,251.3L525.4,254L530,255.9L536,256.3L564,253.5L612.8,240L638,234.1L648,233L664,232.4L692,229.1L720,228.4L722,227.9L724,226L725.6,222Z"/>
<path fill="#ff2000" d="M687.5,236L694,235.6L716,236L722,236.7L723.6,238L724.7,240L726.5,252L727.5,254L730,255L730,550L157.1,550L156.6,546L157.1,544L164,535.8L165.1,524L166.8,518L170.6,514L180,508.5L184,504.4L186.8,500L192,489.5L200,476.1L204,470.5L208,466.2L214,462L236,450L252,445.7L264,441.2L277.9,430L290,421.7L300,411.7L310,406.4L312.7,404L314.2,400L312.8,390L304.8,364L299.8,352L299.7,350L303,342L304.5,334L314.6,322L316.5,318L318.1,310L320,306.8L322,305.4L326,303.7L330,303.2L344,306.8L348,307.1L356,306.4L362,304.9L372.7,300L384,296.4L396,290.9L406,285.2L414,278.5L425.8,258L429.2,254L434,250.8L440,249.1L456,246.8L476,249.9L486,248.1L508,247.4L512,249.2L524,259.5L528,261.2L530,261.4L564,257.4L605.2,246L636,238.5L646,237.5L662,237.5Z"/>
<path fill="#ff1300" d="M641.2,244L672,243.1L692,243.1L716,245.3L718,245.8L720,247.2L722.5,254L724,255.9L730,257.5L730,550L159.6,550L159.4,546L160,544L165.6,538L166.5,536L166.5,526L167.2,522L168.9,518L173.1,514L180,509.7L184,505.7L187.6,500L193.6,488L200,477.4L204,471.6L208,467.2L215.3,462L236,450.8L252,446.4L266,440.6L278.8,430L290.6,422L300,412.8L304,410.5L312,407.1L315.4,404L316.4,402L316.2,398L304.9,362L300.9,352L300.8,350L304.1,342L305.2,334L306.5,332L312.7,326L315.7,322L317.9,318L320,312L322,310.1L326,308.2L330,307.1L344,309.6L354,309.3L364,307L376,302.9L388,302.9L392,301.9L404,295.3L414,287.7L419.1,282L431.1,264L434.8,260L438.6,258L452,254.9L458,254.5L472,256.8L478,257.2L490,255.3L506,254.8L510,256.2L524,265.1L526.6,266L530,266.2L566,261.7L584,257.8L624,247.2Z"/>
<path fill="#ff0600" d="M644.6,250L674,249.3L692,250.8L712,254.2L716,255.9L717.9,258L722,266.5L722.9,262L724.2,260L726,258.9L730,259L730,550L161.2,550L162,545.1L167.9,538L168.5,536L168.2,526L170,519.4L173,516L182,509.5L184,507.3L198,482L204,472.9L208.2,468L216.8,462L235.2,452L240.7,450L252,447.2L266,441.3L279.8,430L291.7,422L300,414.1L304,411.9L314,408.7L317.5,406L319.1,402L319.3,400L314,387.4L302.1,352L302,350L305.4,342L305.5,336L306,333.8L314,326L318.7,320L322,314.6L324,312.9L328,311.3L332,310.8L344,312.6L350,312.7L374,308.1L392,309.7L398,308.9L408,302.7L418,294.6L430,278.2L438.3,268L442,265.6L454,262.4L458,262.1L470,263.9L476,264.2L494,262.3L504,262L508,263L522,269.3L526,270.4L530,270.7L548,269L581.8,264L626,252.9Z"/>
<path fill="#f90000" d="M649,256L668,255.4L674,255.7L694,259L710,263.7L714,266.7L716,270.1L718,277.6L722,297.3L724,302.9L727.2,302L730,300L730,550L162.8,550L163.9,546L170.1,538L170.6,536L169.9,526L171.7,520L175.6,516L182,511.2L184,509L187.1,504L196,486.6L204,474.4L209.7,468L218.8,462L237.6,452L254,447.4L266,442L278.2,432L292,422.9L300,415.8L306,413.1L316,411L318.2,410L320,408L321.9,402L322.1,400L321.6,398L318,393.1L315.5,388L310,373.2L304,354L303.5,350L307.1,342L306.8,336L307.3,334L314,328L322,319.1L325.6,316L330,314.6L334,314.3L344,315.7L350,315.9L364,313.4L372,313.1L382,315.4L398,316.4L404,315.8L408,313.5L422,301.6L425.1,298L434.4,284L444,274.2L448,272.3L456,270L472,271.2L490,270.4L502,269.2L510,270.5L518,273L526,274.8L530,275.1L544,274.5L586,269L628,258.6ZM606,329.8L596,331.5L592,332.9L589.4,336L589.2,338L590,339.7L592,340.3L594,340.1L614.3,336L616,334L615.8,332L614,330.3L610,329.5ZM726.1,262L728,260.7L730,260.6L730,295.2L729.4,294L728,293.4L726,291.3L724.6,288Z"/>
<path fill="#ec0000" d="M638,264L650,263L668,262.3L679.6,264L694.3,268L703.8,272L709.1,276L712,280.3L716,294.8L718.1,306L717.8,312L714.8,326L713.7,334L714.6,340L717.3,346L720,349.3L722,350.7L724,351.1L730,349.4L730,550L166,550L167.9,546L172.9,538L173.1,536L172.2,528L174,521.4L184,511.2L196,488L206,474L211.9,468L218.1,464L237.4,454L254,448.8L258.8,446L266,442.9L280,431.6L292.4,424L302,417L306,415.5L320,413.6L323.2,412L325.3,408L326.3,402L325.9,400L324.9,398L319.5,392L316,386L310.6,372L305.1,352L306,348.1L309.8,342L310.3,340L310,335.9L311.5,334L316,330.6L320,326L327.3,320L330,318.9L334,318.3L348,319.9L366,318.6L370,319.3L376,321.9L380,322.9L408,324.3L412,323L413.2,322L426,309.8L433.6,300L438,292.5L442,287.9L449.3,282L456,279.2L460,278.8L468,279.2L482,278.4L492,279L500,277.7L508,277.4L530,280.1L548,279.8L562,277.5L586,275.4L600,273.1L617,268ZM606,319.5L592,321.5L588,323.3L586,325.3L583.4,330L581.3,338L581.7,342L583.8,346L586,347.4L590,348.2L604,347.3L622,344.9L624.1,344L626.3,342L628.8,336L629.4,332L628.1,328L626.3,326L622,323L618,321.3L610,319.4ZM729.5,266L730,264.1L730,285.4L729.2,282Z"/>
<path fill="#df0000" d="M637.4,282L646,281.3L649.5,282L660,288.7L674,292L677.4,294L680,296.5L686,304.6L694,313.1L695.7,316L696.2,322L694.6,332L695,334L696.9,338L712,358.6L716.5,364L718,367.5L720.3,376L722,379.3L726,379.4L730,380.8L730,550L178.6,550L178,547.8L176.1,546L175.1,544L177.5,538L176.7,530L178,524.7L182,518.6L186,511.1L192,497.3L196,489.6L202,481.1L214.1,470L221,466L232,461.9L258,449.5L261.6,446L268,442.3L280,432.7L304,419.4L308,418.6L316,418.6L318,418.9L319.8,420L320.9,422L322,428.7L323.1,432L324,434L326,435.3L334,437L338,437L340,435.9L341.3,434L346.9,420L347.2,418L346.7,416L343.7,412L336,405.1L331.4,400L322,392.2L318.7,388L312,373L307.1,354L307.4,350L308.6,348L315.3,342L324,330.8L328,326.9L330,325.8L334,325.5L344,327.8L356,328.7L376,335.9L396,348L408,349.7L416,349.8L426,348L429.3,346L431.4,342L437.2,322L440,317.1L464,300.3L470,297L474,296.3L478,296.3L494,298.4L498,297.6L510,292.8L516,291L548,292.5L572,289.2L584,288.4L586,289.1L588,292.5L589.8,302L589.8,304L589,306L582,309.3L580,311L566,327.8L564,329.4L560,331.2L550.6,334L548,335.7L547.8,338L548.8,340L557.2,350L562,353.5L566,355.4L588,359.3L616,359L620,359.9L628,362.9L632,363.4L636,361.9L640,358.4L655.1,340L657.9,336L658.7,334L658.6,332L657.5,330L650,322.1L645.2,316L636,308.9L630,305.6L628,303.9L627.3,302L626.8,298L626.6,290L627.2,286L630,283.7Z"/>
<path fill="#d20000" d="M510,310L514,308.9L516.6,310L518,312.3L525.1,332L532,338.9L548,357.9L556,363.4L562,366.2L586,370.9L612,372.6L618,374.4L638,382.7L642,383.4L644,382.7L646,381.2L664,359.6L670,353.2L676,349.1L682,346.7L684,346.6L688,348.9L692,353.3L707.4,374L718,409L720,411.9L722,402.6L722.9,394L724.8,390L726,384.8L726.4,384L728,383.3L730,383.6L730,550L667.6,550L668.4,546L667.7,544L666,543L660,542.6L654,542.8L651.2,544L650.6,546L651.7,550L180.5,550L180.7,544L182.6,540L183,538L182.8,530L183.3,528L186.5,522L187.2,514L188.8,508L194,495L198,488.3L202,483.2L204,481.6L210,478.9L220,472.4L224,470.8L234,468.8L246,463.5L255.2,456L262,452L262.7,448L264,446L279.8,434L288,429.8L304,423.5L308,423L314,423.7L316,424.7L316.8,426L317.6,430L318,440L316.2,450L319.6,474L320.2,476L322,478L328,481.4L333.2,488L333.8,490L333.6,494L331.2,500L331.6,502L332.1,502L338.1,490L340.9,470L345.2,458L348,453L354.7,446L359.5,440L363.2,432L364.8,426L362.9,422L354.4,414L342.1,404L326,393.2L322.3,390L319.3,386L314,375L310,360L309.1,354L309.2,352L310.1,350L311.9,348L317.3,344L322,338.2L326,334.5L328,333.6L330,333.5L340,337L358,339.9L374,345.7L390,354L394,355.4L414,357.9L430,357L436,355.3L441.4,352L443.7,348L448,334L450,330.6L468,318L472,316.1L476,315.5L492,316.9L496,315.8ZM566,457.8L562.6,460L556.6,466L555.2,468L554.7,470L556.4,474L562,482.2L564,484L566,484.4L570,483.1L580.3,478L583.6,476L585,474L584.2,470L580,462.3L578,459.8L576,458.6L572,457.6ZM700,479.5L686,489.6L682,491.2L646,496.8L642,496.8L626,495.1L622.4,496L621.8,498L622.3,500L629.4,518L630.8,520L632,520.7L638,521.1L678.7,516L690,514.3L694,513.1L696,510.9L697.1,508L703.5,484L703.8,480L702,478.6ZM722,488.8L721.4,490L721.7,492L724,492.4L725.3,490L724,488.2Z"/>
<path fill="#c60000" d="M498.7,332L504,330.8L506,331.9L510.2,342L512,344.6L514,345.7L520,346.9L522.1,348L528,353.3L539,366L544.4,370L552,374.4L564,378.6L588,383.2L604,385.1L612,387.3L641.8,400L676,417L684,421.9L708.1,446L709.7,448L710.3,450L709.4,452L707.4,454L680,474.7L676,476.8L672,477.9L644,481.9L638,481.6L608,477.5L603.5,476L600,473.3L596,467.2L588,452.9L584.8,450L580,448.1L572,446.9L564,446.5L560,447.6L544,462.3L537.9,466L536.2,468L535.7,470L536.9,474L552.9,498L554.6,502L554.9,522L554.3,526L552.3,528L550,529L523.1,536L519.6,538L522,540.1L554,543.2L556.1,544L556.4,546L554,547.4L552,547.8L514,549.2L511.1,550L182,550L182.4,548L183.5,546L185.9,544L187.4,542L188.3,538L188.7,532L190.9,526L191.1,522L190.1,514L190.9,506L196,493.4L200,487.7L204,484.1L212,482.9L218,479.4L222,477.9L238,475L248,470.2L259.6,460L264.9,456L266.1,454L265.1,448L266.1,446L276,438L282.5,434L290,431.1L304,427.7L310,428.2L313,430L314,432.8L314.1,438L313.5,440L309.4,446L308.6,454L308.8,462L311.3,476L312.2,478L314.3,480L318,481.6L324,482.7L326,483.6L328.5,486L329.6,488L330.1,490L329.7,492L325.6,500L324.9,504L325.6,506L328,508L332,509.1L334,508.4L336.4,506L345.2,492L345.3,482L346.3,474L347.7,468L350.2,462L356,455.2L380,433.1L396,424.9L400,423.2L404,422.4L442,417.8L452,418.5L458.6,420L464,420.5L468,420L463.2,418L454,416.8L438,412.9L434,412.5L398,416.4L394,417.8L384,422.7L380,424L378,423.9L374,422.3L364,415.4L346,401.1L344,399.8L334,396.1L326,390.8L321.3,386L316,376.1L314.4,372L312,361.2L311.3,354L311.8,352L313.4,350L318,347L322,343.3L324,342L326,341.6L327.8,342L338,346.5L358,350.6L372,355.2L388,361.6L392,362.6L414,365.9L432,365.7L442,363.9L448,361.4L452,359.1L455.1,356L458,348L460,344.2L464,340.9L472,335.9L478,334.8L490,335.2ZM314,516.6L312,518.7L310,524L306.9,530L306.8,532L307.5,534L310,535.2L312.9,534L321.5,526L323.1,524L323.5,522L322.7,520L320,517.5L318,516.4L316,516Z"/>
<path fill="#b90000" d="M321.4,350L324,350.2L334,355.2L340,357.2L356,360.6L386,369L410,373.4L424,374.3L438,374.1L448,372.3L456,369.4L464,364.9L467.3,362L470,357.9L474,354.9L478,354.1L486,353.9L492,352.8L494,353L498,356.7L500,357.7L510,358.4L514,359.6L532.5,376L540,381.1L548,385.1L562,389.8L602,398.3L619.4,406L632,413.7L642,417.9L656,426L658.2,428L663.4,436L676,449.8L676.6,452L675.5,454L670.8,458L666,461.4L660.7,464L652,466L640,467L631.9,466L626.3,464L620.7,460L614,456.1L602,450.7L600,449.1L596.4,444L594,441.7L588,439L582,437.4L570,436L558,435.8L556,436.4L548,441.7L533.3,444L524,446.5L522,447.7L520.2,450L514.8,462L512.8,468L512.9,472L519.9,490L526,496.4L530.7,504L531.8,508L532,514L531.6,516L529.7,518L516,522.5L509.5,524L506.3,526L503.9,532L501.5,542L502.7,544L505.1,546L505.8,550L184.2,550L186,548L190.6,546L192.2,544L192.9,542L195.8,528L192.8,508L194,502.3L196,497.3L200,490.9L202,488.6L204,487.3L212,487.6L222,484.6L238,482.4L242,481.3L248,478.4L268,460.6L270,458.1L270.6,456L270.4,454L267.8,448L269,446L276.2,440L283.2,436L290,433.9L302,432.3L306,432.4L308.9,434L309.6,436L308.8,438L302.9,444L301.7,448L300.9,468L302.2,476L304.1,480L308,482.7L316,485.4L324,486L326,487.7L326.6,490L326.1,492L322.3,498L320.9,502L320.6,506L321.1,508L322.9,510L328,512.8L332,514.3L334,514.3L336,513.3L338,511.3L346,501.5L351.4,496L352,494.7L352.5,492L352,476L352.7,472L354.4,468L363.5,458L376,447.7L380,445.7L398,438.9L406,436.8L422,434.5L434,434L452,431.8L464,432.3L472,430.2L476,428.5L478,426.8L478.9,424L477.9,418L476,414L474,412.6L464,408.7L454,406.1L428,397.9L424,397.5L410,398.5L390,396.7L384,398.4L376,399L364,402.3L360,402.7L356,401.4L346,395.6L335.6,394L328.7,390L324,386L320,379.8L316.7,372L314.4,360L314,355.6L314.4,354L315.9,352ZM312,511.8L310,513L307.6,516L306,522.2L303,528L302.7,530L303.8,534L306,537.1L308,538L310,538.1L314,536.6L324,528.9L326.8,526L328.6,522L328,520L326.4,518L320,512.3L316,511.1Z"/>
<path fill="#ac0000" d="M329.5,366L332,365.3L336,365.7L346,369.1L348,370.9L350.3,376L351,380L350.3,382L348,385.5L344,389.3L340,390.2L336,389.3L328,384.6L324,380.2L322,376L322,373.7L322.7,372L326,368.2ZM477.4,372L484,371L494,371.4L498,372.1L506,375L514,376.7L518,378.5L532,388.7L533.5,390L534.4,392L534.1,394L528.7,406L526,410.6L524,411.7L522,411.5L512,406.9L502,405.2L496,404.7L486,405.5L480,405L472,402.4L466,399.4L464,397L463.4,394L464,384L464.8,380L466.3,378L468,376.9ZM447.6,380L454,378.8L456.2,380L457,384L456.5,390L455.2,394L454,395.1L452,395.4L448,394.5L446,393.8L443.4,392L442.7,388L443.5,384L444.6,382ZM570.8,404L572,403.1L574,402.8L578,403.4L590,406.3L594,408.4L594.9,410L594.7,412L590.2,422L587.8,426L586,427.1L580,427.1L571.6,426L570,425.3L568.8,424L568.3,420L569,412L569.8,406ZM608,416L610,416.1L614,418.5L618.4,422L619.5,424L619.3,428L617.3,434L616,436.5L614,438.2L610,437.8L604,435.8L600.7,434L599.5,432L600.3,428L604,420.5L606,417.3ZM386.5,456L394,454.2L396,454.5L400,456.2L406,456.6L408,457.6L436,485.2L440,488.2L444,488.3L452,485.4L464,482.3L466,482.7L468,483.9L479.4,494L480.6,496L480.7,498L474.8,512L470,517.6L462.2,524L461.5,526L461.5,530L462.4,534L464,536L471,542L471.6,544L467.5,546L454,547.8L452,548.9L451.5,550L330.7,550L330,547.7L328,546.9L320,545.9L315.6,544L316.3,542L318.7,540L328,533.8L332,530.4L342.1,518L348,511.7L371.2,492L371.8,490L368.3,474L369.3,466L370.3,464L374,460.9ZM265.8,472L268,471.4L270,472.1L277.9,484L293.6,500L295.8,504L296.1,508L295.4,514L289.7,526L289.2,528L289.2,534L287.3,542L286.1,544L282,546.4L281.2,548L281.1,550L216.9,550L216.7,548L216,546.6L206.5,544L205,542L205.1,540L206.4,536L211.2,526L211,520L211.5,516L217,504L220,495.7L222,493.5L226,491.5L242,488.7L248,486.4L262,474.6Z"/>
<path fill="#9f0000" d="M330.4,376L332,374.1L334,374.5L340,377.6L340.7,380L340,380.7L338,380.9L336,380.2L331.9,378ZM479.7,386L484,385.7L516,390.3L520.1,392L521.9,394L521.9,396L520,397.7L518,397.7L480,393.2L477.7,392L476.7,390L477.2,388ZM579.9,414L580,416.1ZM381.7,470L386,469.4L388,470L398,479.1L406,483.9L424.2,502L428,505L430,505.4L434,504.4L454,494.8L458,493.3L462,492.9L464,493.7L466.7,496L468.1,498L468.3,500L466.9,504L464,507.7L441.4,520L439.2,522L438.4,524L438.2,536L439,540L440.1,542L442,543.3L446,544.9L447.9,548L448,550L334.2,550L336,546.7L344.3,544L339,542L337.9,540L348,528.9L385.5,498L386.3,496L385.9,494L377.4,484L376.4,482L375.6,478L376,473.9L378,471.6ZM255.1,490L258,489L260,490L267.9,504L274.8,512L275.4,516L273.4,524L277.9,536L277.9,538L277.1,540L274,541.7L270,542.5L256,542.6L238,542.4L230,541.4L226.4,540L225.8,538L226.9,532L222.8,518L222.2,514L223.2,510L226,504.2L228.4,502L236,498L248,494.4ZM221.6,548L226,547L272,547L276,547.6L277.6,550L220.4,550Z"/>
</g>
<g fill="none" stroke="#000" stroke-width="1" stroke-linejoin="round">
<path d="M710,185L700,184L691,182L668,183L660,184.3L648,184.3L639,185.8L631.5,189.5L627,195.5L618,199.3L609,200.8L598.5,196.3L591,200.8L577.5,203.8L559.5,207.5L549,211L538,212L531,212L525,210L521,203.8L516,201L510,196L503.8,193.8L498.8,190L495,186L490,182L486,178.8L483.8,185L483,190L482,202L478,210L468,215L454,214L448,213.6L438,212.4L426,212L414.4,214L410,220L406,230L405,242L406,256L405,262L404.5,268L402,273L398,276.5L392,279L385,281.5L379,284L373,287L368,290L356,293L342.5,292L338,289L332.5,283L332,278L330.5,273L328,268.5L330,263L337,261L344.5,260L349.5,257.5L351,253L354,249.5L356.5,247.2L353,246.5L344.5,247.2L337,250L329,253L323,256L318,259L314.5,264L313.5,270L312,280L311,290L310,300L309,312L307,322L304,330"/>
<path d="M710,185L718,180L719,174L715,167L710,164L704,166L699,170L699,163.5"/>
<path d="M505,189.4L510,190.6L515,193.8L520,197.5L525,201L535,203L548,205.5L559.5,201.5L570,198.5L585,194.8L603,191.8L612,190L624,185.8L636,177.5L651,170L645,165.5L640.5,163"/>
<path d="M500,188.8L505,191.3L512.5,193L517.5,197.5L521,200L529,197L540,192.5L549,197L558,193L570,192.5L585,189.5L600,187L604.5,182L618,174.5L623,170L610.5,167.8L604.5,164L592.5,155"/>
<path d="M557.5,188L570,185L582,179L591,173L597.8,170L591.8,165.5L589.5,161L577.5,155L570,148"/>
<path d="M540,170.8L552,173L562.5,170L566,164L565.5,155L562,147"/>
<path d="M313,320L313.5,300L314.5,285L316,278L320,279.5L325,283L328,287L330,290L333,293L345,297L357,299L363,296.5L370,294L376,291L383,288L390,284.5L397,282L403,279L407,275L409,270L410,265L412,258L414,252L414,242L417,230L421,223L426,220L436,221L444.4,222L456.4,224L468.4,222L476,219L484,215L491,202L498,195.6L504,201L510,206L516,214L520,220L530,222L534,227L529,230L535,236L537.5,241L557,242.5L570,241L592.5,235L612.5,229L630,224.5L647.5,220L660,216L680,207.5L700,205L717.5,202.5L725,199"/>
<path d="M304,331.5L307,329L312,325L315,319L315.5,310L316.5,302L319,299L326,296.8L329,299.5L333,302.5L345,306L357,305L363,303L369,299.5L375,296.5L381,294.5L387,290L393,288.5L400,285L406,281L412,277L415,271L419,265L421,258L424,254L428,251L433,247L439,241.6L448,245L456,243.6L468,246L478,248.4L482,246L487,238L497,236L508.4,241.6L516,250L524,258L528,261L530,260L545,257.5L562.5,256L580,251L600,245L617.5,240.5L636,236L648,235L660,235.5L680,234.5L692.5,233L710,233L725,233"/>
<path d="M304,332L313,330L316,325L320,323L326,319L335,317.5L343,319L350,319.5L357,318L364,316.4L371,317.6L376,322L378,327L386,332L394,338L398,342L407.5,343L415,343L419,341.4L415,339L411,333L410,326L416,319L424,312L432,304L436,294L442,287L450,281L458,278L468,279.6L482,278L492,279L498,282.4L502,277L508.8,276.5L515.6,278L530,280L547.5,280L562.5,277L587.5,275.5L612.5,269L630,265L647.5,263L670,262L680,264L692.5,267.5L705,272.5L712.5,279L716,290L720,307.5L716,322.5L712.5,334L716,345L721,352.5L725,354"/>
<path d="M610,319L590,320.5L582,325L584.5,335L580,338L570,339.5L564.5,342.5L569,346L580,346L587.5,349L605,348L622.5,346L631,342.5L633,335L629,326L620,321L610,319"/>
<path d="M317,351L323,358L327,363.6L334,361L343,364L355,366L367,369L376,371L388,373.6L400,375.6L410,378L425,379L445,379L455,376L467.5,371L475,365L485,364.5L497,365L508.8,365L520,375L535,386L547.5,392L560,396L580,400L600,405L612.5,412.5L622.5,420L637.5,425L644,430L647.5,439L640,446L647.5,449.5L660,453L650,458L640,459L635,454L629,450L612.5,441L600,437L587.5,432L570,430L557.5,429.5L545,430L530,432L515,436L500,441L485,447L470,453L460,459L451,465.5L446,472.5L443,479.5L447.5,482.5L460,479L472.5,474L482.5,469.5L497.5,464L500,466L500,472.5L494,480L492.5,487.5L487.5,495L492.5,498L507.5,500L517.5,505L519.5,512.5L512.5,515.5L500,517L485,517.5L475,519L471,524L472.5,532.5L480,537.5L487.5,544L491,547.5"/>
<path d="M317,351L314,354L314.5,365L316,373L319,378L323,385L329,390L336,394L344,394L349,392L351,386L356,381L364,380L372,381.6L380,384.4L392,386.4L404,388L416,389L428,389L435,395L447.5,397.5L457.5,401L467.5,406L480,410.5L490,411L500,409L510,410.5L520,416L527,419.5L510,422.5L495,426L480,432L470,436L447,441.5L435,442L427.5,444L420,442.5L410,444L397.5,447L385,451L375,454.5L367.5,459L362.5,465.5L360,468L356,471L355,476L360,474.5L365,474.5L368.8,480.5L367.5,487.5L360,494L350,502L342,510L334,520L326,530L318,535L306,539L300,547"/>
<path d="M304,332L306.5,337L313.5,342L308,345L303.5,350L305,355L306.5,360L309,368L311,375L314,381L316,387L319,391L322,395L326,397L330,400L332,403L333,408L326,414L319,414L306,414.5L300,417L295,421L289,425L281,430L273,437L267,443L255,447L245,449.5L238,451L228,457L218,462L210,467L204,474L200,481L194,491L189,502L184,511L178,515.3L172,520.5L170.5,529.5L173.5,538.5L167.5,543L166,547"/>
<path d="M302.5,333L303,340L299,348L297,350.5L301,356L304,364L306.5,372L309,379L311,387L312,395L314,400L310,405L300,409L295,413L292,418.5L287,422.5L279,427.5L271,434.5L265,440.5L254,444.5L244,447L236,448.5L226,454.5L216,459.5L208,464.5L201.5,472L197.5,479L191.5,489L186.5,500L181,507.5L175,510L166.8,516.8L164.5,525L165.3,537L160,540L155.5,543L154.8,547"/>
<path d="M155.5,511.5L154.8,523.5L149.5,526.5L146.5,534L145,541.5L142.8,547"/>
<path d="M153,507L141.3,501L133.8,501L130.8,505.5L132.3,513L134.5,522L130.8,531L133,540L132.3,547"/>
<path d="M141.3,497.3L136,493.5L130,492.8L122.5,496.5L121,498L119.5,508.5L115,513L117.3,523.5L111.3,531L112.8,547"/>
<path d="M123.3,484.5L133.8,484.5L141.3,491.3"/>
<path d="M211,489.8L208,492L202,495L199.8,501L199,510L194.5,513L191.5,508.5L193,499.5L196,492.8L203,486"/>
<path d="M217,489L215.5,499.5L208,514.5L203.5,525L197.5,534L194.5,547"/>
<path d="M254,444.5L266,445L274,439L280,436L290,434L304,433.6L309,436L304,439L298,444L288,448L280,452L273,454L272.4,461L277,467L282,476L294.5,478L302,483L304,492L305.6,502L305,509L304,519.6L304,524L296,529L293,536L291,547"/>
<path d="M310,509L309,498L314,490L322,486L327,487L326,491L321,494L319,504L318,509"/>
<path d="M146.5,462L152,460.5L156,462L158.5,468L164,470.5L162.5,472.5L157,474L153,473L149,469.5L147.5,465L146.5,462"/>
<path d="M144,455.8L155,456.5L160,460L164,465L169,468.5L169.5,472L167,478L164,480L153,480L149,476L145,473L144,472"/>
<path d="M178,433L176,442L170,445.5L172,450L174.5,453L173,455.5L168,457L163,457L155,453.5"/>
<path d="M224,413L227,416L227.5,419.5L224,421.5L218,422.5L210,424L203,425L200,428L198,432L193,435L188,433.5L184,434L181,438L179.5,445L181,455L183,461L180,468.5L175,469.5L172,474L171,479L167,484L165,486"/>
<path d="M232,421.5L228,425L220,426.5L213,428L209,432L205,437L200,440L197,443L203.5,448.7"/>
<path d="M219.5,436L224,433.5L228.5,436L221,437L219.5,436"/>
<path d="M194,425L200,422.5L207,421.5"/>
<path d="M129.5,472.5L135,478L140,482L146,487"/>
<path d="M137,472.5L142,477L146,479L150,483"/>
<path d="M304,328L304,310L304.5,280L305,270L306.5,259L312.5,252.7L323,247.5L335,242.7L347,240L356,239L362,241.5L368,247.5L362,255L359,260L358,264L352,269L344.5,273.5L345.5,278L347,283L356,290L368,287L374,283L379,280L385,277L392,274L397,270L400,266L399,260L398.5,255L400,250L398.7,240L404,232.5L407,225"/>
<path d="M367,279L362.5,274.5L364,270.5L368.5,266L372.5,260.5L377,256L382,253L387,252L390.5,254.5L391,258L388.5,262L384,265L381,269L378,273L375,274.5L372,276.5L367,279"/>
<path d="M442,115.9L434.5,124"/>
<path d="M446.9,170L444,162.2L443.4,154L444.1,132L444.8,128L446.7,124L446.9,120L446,115.5L444,114.5L442,115.9"/>
<path d="M451.2,170L451.4,166L451,162L448,146.9L447.6,136L448,132L448.8,130L454,124L454.1,122L452.5,118L451.6,114L451.8,104L450.8,102L450,101.4L448,102.4L435.2,116"/>
<path d="M435.6,110L436.8,106L438,104.3L446.8,96L448.4,94L448.9,92L448.7,90L446,86.8L435.4,80"/>
<path d="M532,99.6L516.1,106L513.9,108L513.6,112L515.7,118L519.2,124L522,130.9L526.2,138L528.2,148L532,156.7L534,159.6L538.8,164L540.3,166"/>
<path d="M548.2,122L542,111.1L538,101.7L536,99.6L534,99.3L532,99.6"/>
<path d="M454.2,170L454.7,166L454.6,160L451.6,136L451.8,134L452.7,132L456.4,128L457.5,126L457.9,124L455.4,114L458.7,98L458.4,92L458,91.1L456.5,90L454,89.1L448,83.2L442,79.1L436.2,76"/>
<path d="M531.9,76L531.8,80L530.7,82L528,83.7L526.6,86L526.9,88L528,89.6L529,90L529.3,92L518,96.5L509.3,102L507.6,104L506.7,106L506.1,114L506.4,116L507.9,120L515.5,134L521.2,148L528,160.4L530.3,164L535.4,170L537.8,172L541.6,174"/>
<path d="M548.1,100L545.9,94L546,91.1L548,90.1L550,90.3"/>
<path d="M535,88L536,87.2L536.8,88L536,88.4L535,88"/>
<path d="M484,131.4L482.8,134L482.9,140L484,144.1L486,148.9L488,150.5L489,148L490.2,142L490.6,138L490.4,134L489.5,132L488,130.5L486,130.2L484,131.4"/>
<path d="M457.1,170L457.9,164L458,158L456.3,142L456.2,136L456.6,134L459.7,128L460.2,126L460.1,122L459.1,116L459.2,114L462.1,106L463.6,100L466.5,84L467.1,76"/>
<path d="M506.8,76L506.7,80L506,82L504,83.4L498,85L496,84.9L494.4,84L492,83.6L487.5,84L487.7,86L496,87.2L502.4,90L504,91.9L503.7,94L502.6,96L500,99.3L496,102.1L477.6,106L474.8,108L475.3,110L480.7,116L481,118L479.8,122L477.7,126L476.6,130L476.5,134L477.1,138L481.2,150L484,160L485,162L487.2,164L490,165.2L494,166.1L498,166.2L500,165.4L501,164L501.4,160L500.2,154L497.8,146L497.7,140L500,133.1L502,131L504,132.3L508.7,138L516.6,152L526.5,166L532,171.8L537.1,176L538.2,178L538.1,180L537,182L534,185.8L532,187.1"/>
<path d="M528,186.1L522,184.6L516.8,182L514,181.3L512,181.5L511.2,182L510.5,184"/>
<path d="M459.7,200L462.3,194L462.8,190L462.5,182L460.8,172L461.7,158L461.4,136L462.6,128L463,116L464,113.4L467.1,108L469,98L472,91.2L474.6,88L481.1,84L481.1,82L481.7,80L484.5,76"/>
<path d="M467.4,124L468,122.1L469.7,124L469,126L468,126.6L467.4,124"/>
<path d="M511.5,162L512,161.4L514,161L518,163.1L520,165.2L523.1,170L528,173.6L530.1,176L529.7,178L528,178.6L526,178.3L522,175.2L514.1,172L512,170.4L510.4,168L510,166L510.4,164L511.5,162"/>
<path d="M458,209.7L462,209.1L464.2,208L466.4,204L469.8,194L469.2,186L469.6,176L467.4,166L468.4,152L470,146.8L472,145.7L474,148L476,153.5L477.6,160L480.3,166L482,167.5L492,171L498.1,174L500,175.4L500.7,176L501.4,178L500.9,182"/>
<path d="M486,177.3L486.6,176L488,175.4L490.8,176L492.2,178L492.3,182"/>
<path d="M356,216.6L351.9,222L352.1,224L356,224.6L366,224.4L370,223.9L384,214L396,203.4L406,195.5L410,193.7L418.5,192L422,190.1L426,187.1L430,185.2L438,183.7L441.7,182L444,180L446,177.5L447,172L446.3,168"/>
<path d="M345.5,220L340.6,226L338.2,230L340,231.3L352,228.9L368,228L372,227.1L388.8,216L398,207.4L408,200.3L418,197.5L430,191.5L440,189.7L448.1,186L450,184.1L450.5,182L450.1,176L451.4,168"/>
<path d="M296.4,264L296.4,260L294,255.1"/>
<path d="M298.8,264L300,260L302.3,256L298.1,252"/>
<path d="M304.8,248L306,250.9L308,251.1L310,249.8L318,242.6L322,240.6L330,239.4L340,235.2L350,232.1L372.3,230L382,224.6L392,220.2L397.7,212L400.1,210L408,205.2L420,201.2L430,196.6L444,194.4L450,192.2L453,190L454.3,188L454.9,186L454.7,182L452.9,176L454.5,168"/>
<path d="M301,264L302.8,260L306,256.3L316,247.7L320,244.9L324,243.4L330,242.4L338,238.4L348,235.2L356,234L372,233.4L392,227.3L394,226.4L396.5,224L400.7,214L403,212L408,209.2L428,201.9L432,201.1L444,200.2L450,198.8L454,197.1L456,195L457.7,192L458.6,188L458.4,182L456.4,174L457.5,168"/>
<path d="M309,256L318,248.7L323.5,246"/>
<path d="M335.2,242L340,239.9L350,237.4L360,237L368,238.6L372,238.6L378,237.6L394,233.3L398,231.1L400,228.4L402,224L404.1,216L406,214L410,211.6L414,209.8L420,208.5L428,205.7L446,206.1L454,204.8L456.4,204L458,202.7L460.7,198"/>
<path d="M407.4,218L409.1,216L414,212.6L426,209.5L428,209.2L448,210.2L462,209.1"/>
<path d="M296,305.4L294.4,308L294,310"/>
<path d="M294,310L296,309.4L296,305.4"/>
<path d="M296,298.2L293.7,304"/>
<path d="M293.1,314L294,315.8L296,314.3L296.6,312L296.9,304L296,298.2"/>
<path d="M296,295L293.8,300"/>
<path d="M293,318L294,318.5L296,316.8L297.5,312L297.6,300L297.3,298L296,295"/>
<path d="M296,292.7L293.6,298"/>
<path d="M292,320.5L294,320.5L296,318.8L298,313.7L298.4,308L298.1,296L297.2,294L296,292.7"/>
<path d="M296,290.7L293.9,294"/>
<path d="M292,323L294,322.4L296,320.6L298,316.3L298.8,312L298.8,296L298,292.5L296,290.7"/>
<path d="M296,288.7L293.7,292"/>
<path d="M292,325L294,324L296,322.3L297.3,320L298.7,316L299.3,312L299.4,296L298,290.4L296,288.7"/>
<path d="M296,286.6L294,288.4L293.3,290"/>
<path d="M293.1,326L296,323.7L298,320.5L299.9,312L299.7,294L298,288.5L296,286.6"/>
<path d="M294,285L293.4,286"/>
<path d="M292.4,328L296,325.1L298,322.3L299.4,318L300.4,312L300.6,298L300,292L298,286.6L296,284.4L294,285"/>
<path d="M294,281.3L293.3,282"/>
<path d="M292,329.8L296,326.5L298,323.9L299.6,320L300.9,312L301.1,298L300.6,292L298,284.7L296,281.9L294,281.3"/>
<path d="M294,276.8L292.6,278"/>
<path d="M293.6,330L298,325.4L300.3,320L301.4,312L301.6,300L301.5,294L300.3,288L296,278L294,276.8"/>
<path d="M292.8,332L296,329.3L298,327L300.5,322L301.8,314L302.1,296L301,288L296,273L294,270.5L292,270.7"/>
<path d="M292.1,334L296.8,330L300,325.3L301.7,320L302.6,312L302.5,292L297.2,270L296.4,264L296.4,260L295.7,258"/>
<path d="M293.9,334L298,330.2L300.7,326L302.1,322L303,316L303.2,292L299.3,272L298.8,266L299.2,262L301.1,258"/>
<path d="M294,335.5L298,331.7L300.8,328L302.5,324L303.3,320L303.9,312L304.1,294L301,272L300.8,266L301.6,262L304.4,258"/>
<path d="M296,335.3L299.2,332L302,328L303.6,324L304.3,320L304.9,312L305.3,294L303.7,282L303.1,268L304.2,262L307,258"/>
<path d="M266,402.8L264,406L263.4,408"/>
<path d="M263.5,410L264,410.6L266,411.2L268,410.7L269.3,410L270.5,408L270,405.4L268,402.4L266,402.8"/>
<path d="M270,385.9L266,388.3L262.6,392"/>
<path d="M262,414.2L264,414.8L266,414.7L273.4,412L276.3,410L278,408L280.1,404L280.4,402L280,398.7L276.8,394L276.3,392L276.7,388L276.3,386L274,385.2L270,385.9"/>
<path d="M270,381.7L266,384.4L262.3,388"/>
<path d="M270,415.9L276,413.1L280,410L283.2,406L284,404L284.2,402L283.2,396L280,383.2L278,381.4L276,381L270,381.7"/>
<path d="M270,377.6L262.8,384"/>
<path d="M276,415L282.7,410L286.1,406L286.9,404L287,402L286.1,396L283.7,384L281.9,380L280,378.6L274,377.1L272,376.9L270,377.6"/>
<path d="M282.8,334L284,336.9L286,336L288,334.3"/>
<path d="M270,373.7L263.3,380"/>
<path d="M278,415.4L284.9,410L288.3,406L289.3,404L289.4,400L287,386L285.5,380L284,377.2L282,375.5L277.6,374L274,372.1L272,372.4L270,373.7"/>
<path d="M262.8,342L272,334"/>
<path d="M280.3,334L281,340L282,341.1L284,340.2L290,334.2"/>
<path d="M274,367.1L270,370L263.9,376"/>
<path d="M280,415.6L284.8,412L290.2,406L291.4,404L291.8,400L288.9,382L286,374.4L284,371.6L278,367.6L276,366.7L274,367.1"/>
<path d="M262,355.9L274,345.7L276,344.9L278.1,346L280,346.3L282,345.2L287.7,338L292,334.1"/>
<path d="M276,361.7L272,364.2L262,374"/>
<path d="M282,415.7L286.5,412L291.9,406L293.2,404L293.9,400L293.5,396L291,380L287.9,372L284,365.4L282,363.4L278,361.5L276,361.7"/>
<path d="M284,415.8L288,412.1L294.8,404L295.6,402L295.8,398L294.9,388L292,374.8L285.7,360L284,357.1L280.1,354L280.7,352L287.9,340L290,337.4L293.9,334"/>
<path d="M286,415.7L295,406L297.4,402L297.9,400L298,390L295.9,380L293.8,372L289.4,362L286.5,350L286.7,348L289.8,340L291.3,338L295.6,334"/>
<path d="M288,415.5L298.1,404L299.5,402L300.6,398L301.1,392L300.7,388L295.9,370L291.3,360L289.4,350L292,340L293.4,338L297.3,334"/>
<path d="M290,415L301.9,402L302.9,400L303.8,394L304,390L302,382L297.2,366L293.1,358L291.7,352L291.7,350L294.4,340L295.5,338L299,334"/>
<path d="M290.8,416L296,410L305,402L306.3,398L306.8,392L306.4,388L299.9,366L298.2,362L294.8,356L293.8,352L293.8,350L296.9,340L300,334.9"/>
<path d="M292.7,416L298.1,410L306.8,404L308.3,402L309.3,398L309.5,390L308.5,386L301.7,364L296.8,354L296.2,352L296.2,350L298.6,344L300.3,338L302,334.5"/>
<path d="M254.1,412L255.2,414L260,416.7L264,417.7L268,416.8L276,413.1L280,410L283.2,406L284,404.1L284,400.2"/>
<path d="M244.5,422L246,424L248,424.3L250,423.4L252,420.6L254,419.2L256,419.1L264,420.6L268,419.3L277.6,414L282.7,410L286.1,406L286.9,404L286.7,400"/>
<path d="M238,428.5L248,428.3L252,426.7L256,424L264,423.1L268,421.3L278,415.4L284.9,410L288.3,406L289.3,404L289.4,400"/>
<path d="M214,441.7L218,441.3L222.5,440L242,432.6L250,430.2L258,426.7L266,424.3L279.5,416L286,410.8L290.2,406L291.4,404L291.8,402L291.5,398"/>
<path d="M190,460L222,442.8L264,426.9L268,424.8L281.6,416L286.5,412L291.9,406L293.2,404L293.8,402L293.7,398"/>
<path d="M166,489.5L174,488L176,486.3L185.3,472L187,470L192,465.8L197.5,460L202,456.7L216,449.1L224,444L232,440.6L242,437.4L250.9,434L266,427.7L282,417.2L286.2,414L293.5,406L295.6,402L295.8,398"/>
<path d="M164,493.8L174,492.4L176,491.5L178,489.7L180,486.8L189.1,472L198.4,462L204,457.7L218,450L226,444.9L234,441.6L242,439.2L254,434.7L266,429.3L284,417.3L288,413.8L295,406L297.4,402L298,398.3"/>
<path d="M162,497.9L174,496L176,495.3L178,494L180,491.4L192,472.1L200,463L206,458.4L218,451.9L224,447.9L232,444L244.9,440L260,434.1L268,429.8L284,418.8L288,415.5L296.6,406L299.5,402L300.6,398"/>
<path d="M160.5,502L174,499.5L178,497.8L181.3,494L193.1,474L200,465.6L206,460.4L226,448.7L232,445.7L256,437.9L260,436.2L268,431.5L288,417.1L301.9,402L303.4,398"/>
<path d="M164,505.3L176,502.5L180,499.9L183,496L188.4,486L195.7,474L202,466.1L206.6,462L227.2,450L234,446.5L252,441.3L260,438.3L264,436L288,418.9L296,410L305,402L306.3,398"/>
<path d="M178,505.1L180,503.8L183.4,500L190,487.7L197,476L202,469L206.9,464L213,460L234.9,448L252,443.3L258,441"/>
<path d="M266,437L277.3,428L288,420.7L291,418L298,410.1L306.8,404L308.3,402L309.3,398"/>
</g>
<ellipse cx="345.2" cy="325.3" rx="2.6" ry="2" fill="#fff" stroke="#000" stroke-width="1.8"/>
<circle cx="507.5" cy="487.5" r="1" fill="#000"/>
<path d="M629,204.2H643" stroke="#000" stroke-width="2"/><path d="M643,204.2L650,203L652,198L650,195.5L647,196L646,201Z" fill="none" stroke="#000"/>
</g>
<rect x="666.9" y="175.5" width="25" height="11" fill="#fff"/>
<text x="668.7" y="186.0" font-size="11.5" textLength="22" lengthAdjust="spacingAndGlyphs" stroke="#000" stroke-width="0.25">17.4</text>
<rect x="544.5" y="237.0" width="25" height="11" fill="#fff"/>
<text x="546.3" y="247.5" font-size="11.5" textLength="22" lengthAdjust="spacingAndGlyphs" stroke="#000" stroke-width="0.25">17.6</text>
<rect x="635.5" y="229.5" width="25" height="11" fill="#fff"/>
<text x="637.3" y="240.0" font-size="11.5" textLength="22" lengthAdjust="spacingAndGlyphs" stroke="#000" stroke-width="0.25">17.8</text>
<rect x="663.0" y="254.5" width="14" height="11" fill="#fff"/>
<text x="664.8" y="265.0" font-size="11.5" textLength="11" lengthAdjust="spacingAndGlyphs" stroke="#000" stroke-width="0.25">18</text>
<rect x="603.0" y="311.5" width="14" height="11" fill="#fff"/>
<text x="604.8" y="322.0" font-size="11.5" textLength="11" lengthAdjust="spacingAndGlyphs" stroke="#000" stroke-width="0.25">18</text>
<rect x="545.0" y="423.5" width="25" height="11" fill="#fff"/>
<text x="546.8" y="434.0" font-size="11.5" textLength="22" lengthAdjust="spacingAndGlyphs" stroke="#000" stroke-width="0.25">18.2</text>
<rect x="484.5" y="359.5" width="25" height="11" fill="#fff"/>
<text x="486.3" y="370.0" font-size="11.5" textLength="22" lengthAdjust="spacingAndGlyphs" stroke="#000" stroke-width="0.25">18.2</text>
<rect x="403.5" y="383.5" width="25" height="11" fill="#fff"/>
<text x="405.3" y="394.0" font-size="11.5" textLength="22" lengthAdjust="spacingAndGlyphs" stroke="#000" stroke-width="0.25">18.2</text>
<rect x="342.5" y="359.5" width="25" height="11" fill="#fff"/>
<text x="344.3" y="370.0" font-size="11.5" textLength="22" lengthAdjust="spacingAndGlyphs" stroke="#000" stroke-width="0.25">18.2</text>
<rect x="400.5" y="337.5" width="14" height="11" fill="#fff"/>
<text x="402.3" y="348.0" font-size="11.5" textLength="11" lengthAdjust="spacingAndGlyphs" stroke="#000" stroke-width="0.25">18</text>
<rect x="434.5" y="435.5" width="25" height="11" fill="#fff"/>
<text x="436.3" y="446.0" font-size="11.5" textLength="22" lengthAdjust="spacingAndGlyphs" stroke="#000" stroke-width="0.25">18.2</text>
<rect x="485.0" y="455.1" width="25" height="11" fill="#fff"/>
<text x="486.8" y="465.6" font-size="11.5" textLength="22" lengthAdjust="spacingAndGlyphs" stroke="#000" stroke-width="0.25">18.2</text>
<rect x="484.5" y="230.5" width="25" height="11" fill="#fff"/>
<text x="486.3" y="241.0" font-size="11.5" textLength="22" lengthAdjust="spacingAndGlyphs" stroke="#000" stroke-width="0.25">17.8</text>
<rect x="443.9" y="218.5" width="25" height="11" fill="#fff"/>
<text x="445.7" y="229.0" font-size="11.5" textLength="22" lengthAdjust="spacingAndGlyphs" stroke="#000" stroke-width="0.25">17.6</text>
<rect x="413.5" y="206.2" width="25" height="11" fill="#fff"/>
<text x="415.3" y="216.7" font-size="11.5" textLength="22" lengthAdjust="spacingAndGlyphs" stroke="#000" stroke-width="0.25">17.4</text>
<rect x="453.9" y="202.8" width="25" height="11" fill="#fff"/>
<text x="455.7" y="213.3" font-size="11.5" textLength="22" lengthAdjust="spacingAndGlyphs" stroke="#000" stroke-width="0.25">17.2</text>
<rect x="501.8" y="270.8" width="14" height="11" fill="#fff"/>
<text x="503.6" y="281.3" font-size="11.5" textLength="11" lengthAdjust="spacingAndGlyphs" stroke="#000" stroke-width="0.25">18</text>
<rect x="312.9" y="257.5" width="25" height="11" fill="#fff"/>
<text x="314.7" y="268.0" font-size="11.5" textLength="22" lengthAdjust="spacingAndGlyphs" stroke="#000" stroke-width="0.25">17.4</text>
<rect x="360.0" y="275.5" width="14" height="11" fill="#fff"/>
<text x="361.8" y="286.0" font-size="11.5" textLength="11" lengthAdjust="spacingAndGlyphs" stroke="#000" stroke-width="0.25">17</text>
<rect x="343.5" y="283.8" width="25" height="11" fill="#fff"/>
<text x="345.3" y="294.3" font-size="11.5" textLength="22" lengthAdjust="spacingAndGlyphs" stroke="#000" stroke-width="0.25">17.2</text>
<rect x="332.5" y="292.0" width="25" height="11" fill="#fff"/>
<text x="334.3" y="302.5" font-size="11.5" textLength="22" lengthAdjust="spacingAndGlyphs" stroke="#000" stroke-width="0.25">17.6</text>
<rect x="332.5" y="300.5" width="25" height="11" fill="#fff"/>
<text x="334.3" y="311.0" font-size="11.5" textLength="22" lengthAdjust="spacingAndGlyphs" stroke="#000" stroke-width="0.25">17.8</text>
<rect x="319.0" y="408.5" width="14" height="11" fill="#fff"/>
<text x="320.8" y="419.0" font-size="11.5" textLength="11" lengthAdjust="spacingAndGlyphs" stroke="#000" stroke-width="0.25">18</text>
<rect x="241.5" y="439.0" width="25" height="11" fill="#fff"/>
<text x="243.3" y="449.5" font-size="11.5" textLength="22" lengthAdjust="spacingAndGlyphs" stroke="#000" stroke-width="0.25">18.2</text>
<rect x="201.0" y="478.5" width="25" height="11" fill="#fff"/>
<text x="202.8" y="489.0" font-size="11.5" textLength="22" lengthAdjust="spacingAndGlyphs" stroke="#000" stroke-width="0.25">18.2</text>
<rect x="282.0" y="472.3" width="25" height="11" fill="#fff"/>
<text x="283.8" y="482.8" font-size="11.5" textLength="22" lengthAdjust="spacingAndGlyphs" stroke="#000" stroke-width="0.25">18.2</text>
<rect x="302.5" y="508.8" width="25" height="11" fill="#fff"/>
<text x="304.3" y="519.3" font-size="11.5" textLength="22" lengthAdjust="spacingAndGlyphs" stroke="#000" stroke-width="0.25">18.2</text>
<rect x="191.0" y="443.2" width="25" height="11" fill="#fff"/>
<text x="192.8" y="453.7" font-size="11.5" textLength="22" lengthAdjust="spacingAndGlyphs" stroke="#000" stroke-width="0.25">16.2</text>
<rect x="170.7" y="455.5" width="25" height="11" fill="#fff"/>
<text x="172.5" y="466.0" font-size="11.5" textLength="22" lengthAdjust="spacingAndGlyphs" stroke="#000" stroke-width="0.25">16.4</text>
<rect x="231.0" y="413.0" width="25" height="11" fill="#fff"/>
<text x="232.8" y="423.5" font-size="11.5" textLength="22" lengthAdjust="spacingAndGlyphs" stroke="#000" stroke-width="0.25">15.6</text>
<rect x="231.0" y="418.0" width="25" height="11" fill="#fff"/>
<text x="232.8" y="428.5" font-size="11.5" textLength="22" lengthAdjust="spacingAndGlyphs" stroke="#000" stroke-width="0.25">15.8</text>
<rect x="239.5" y="422.5" width="14" height="11" fill="#fff"/>
<text x="241.3" y="433.0" font-size="11.5" textLength="11" lengthAdjust="spacingAndGlyphs" stroke="#000" stroke-width="0.25">16</text>
<rect x="140.5" y="482.0" width="25" height="11" fill="#fff"/>
<text x="142.3" y="492.5" font-size="11.5" textLength="22" lengthAdjust="spacingAndGlyphs" stroke="#000" stroke-width="0.25">16.6</text>
<rect x="140.5" y="495.0" width="25" height="11" fill="#fff"/>
<text x="142.3" y="505.5" font-size="11.5" textLength="22" lengthAdjust="spacingAndGlyphs" stroke="#000" stroke-width="0.25">17.2</text>
<rect x="140.5" y="486.3" width="25" height="11" fill="#fff"/>
<text x="142.3" y="496.8" font-size="11.5" textLength="22" lengthAdjust="spacingAndGlyphs" stroke="#000" stroke-width="0.25">16.8</text>
<rect x="158.5" y="490.3" width="14" height="11" fill="#fff"/>
<text x="160.3" y="500.8" font-size="11.5" textLength="11" lengthAdjust="spacingAndGlyphs" stroke="#000" stroke-width="0.25">17</text>
<rect x="140.7" y="501.0" width="25" height="11" fill="#fff"/>
<text x="142.5" y="511.5" font-size="11.5" textLength="22" lengthAdjust="spacingAndGlyphs" stroke="#000" stroke-width="0.25">17.4</text>
<rect x="514.2" y="84.7" width="25" height="11" fill="#fff"/>
<text x="516.0" y="95.2" font-size="11.5" textLength="22" lengthAdjust="spacingAndGlyphs" stroke="#000" stroke-width="0.25">16.8</text>
<rect x="489.7" y="110.3" width="14" height="11" fill="#fff"/>
<text x="491.5" y="120.8" font-size="11.5" textLength="11" lengthAdjust="spacingAndGlyphs" stroke="#000" stroke-width="0.25">17</text>
<rect x="494.5" y="177.9" width="25" height="11" fill="#fff"/>
<text x="496.3" y="188.4" font-size="11.5" textLength="22" lengthAdjust="spacingAndGlyphs" stroke="#000" stroke-width="0.25">16.8</text>
<rect x="522.0" y="190.5" width="14" height="11" fill="#fff"/>
<text x="523.8" y="201.0" font-size="11.5" textLength="11" lengthAdjust="spacingAndGlyphs" stroke="#000" stroke-width="0.25">17</text>
<rect x="544.5" y="182.5" width="25" height="11" fill="#fff"/>
<text x="546.3" y="193.0" font-size="11.5" textLength="22" lengthAdjust="spacingAndGlyphs" stroke="#000" stroke-width="0.25">16.8</text>
<rect x="535.5" y="200.0" width="25" height="11" fill="#fff"/>
<text x="537.3" y="210.5" font-size="11.5" textLength="22" lengthAdjust="spacingAndGlyphs" stroke="#000" stroke-width="0.25">17.2</text>
<rect x="525.5" y="206.5" width="25" height="11" fill="#fff"/>
<text x="527.3" y="217.0" font-size="11.5" textLength="22" lengthAdjust="spacingAndGlyphs" stroke="#000" stroke-width="0.25">17.4</text>
<rect x="373.0" y="222.5" width="25" height="11" fill="#fff"/>
<text x="374.8" y="233.0" font-size="11.5" textLength="22" lengthAdjust="spacingAndGlyphs" stroke="#000" stroke-width="0.25">16.8</text>
<rect x="381.0" y="230.5" width="14" height="11" fill="#fff"/>
<text x="382.8" y="241.0" font-size="11.5" textLength="11" lengthAdjust="spacingAndGlyphs" stroke="#000" stroke-width="0.25">17</text>
<g stroke="#7a7a7a" stroke-width="1" stroke-dasharray="2 4.5" fill="none" shape-rendering="crispEdges"><line x1="153.5" y1="56" x2="153.5" y2="547"/><line x1="235.5" y1="56" x2="235.5" y2="547"/><line x1="318.5" y1="56" x2="318.5" y2="547"/><line x1="400.5" y1="56" x2="400.5" y2="547"/><line x1="482.5" y1="56" x2="482.5" y2="547"/><line x1="564.5" y1="56" x2="564.5" y2="547"/><line x1="647.5" y1="56" x2="647.5" y2="547"/><line x1="79" y1="455.5" x2="725" y2="455.5"/><line x1="79" y1="360.5" x2="725" y2="360.5"/><line x1="79" y1="264.5" x2="725" y2="264.5"/><line x1="79" y1="168.5" x2="725" y2="168.5"/><line x1="79" y1="72.5" x2="725" y2="72.5"/></g>
<g fill="none" stroke="#000" stroke-linejoin="round" stroke-linecap="round">
<path stroke-width="2.45" d="M97,548L95,534L92,523L98,517L93,500L94,490L95,488L101.5,486.5L104.5,483L105,478.5L109,474L111,470L118,464.5L124,459.5L130,453L133,448L136,443L138,440L142,435"/>
<path stroke-width="2.45" d="M142,435L137,439L130,444L124,448L117,455L114.5,460L111.5,463L113.5,455L114.5,449L114,442L119,436L127,432L134,425L138,422L144,420.5L146,421L145,425L144.5,430L152,423.5L150,421L146,417L139,415L134,421.5L130,426L127,428L119,429.5L120,425L123,418L124.5,411L133,408.5L140,407.5L142.5,406L145,399L143,395L141,390L135,384L132.4,377L135,368L141,365L148,359.6L158,360L166,362.4L171,367.6L164,372L161,380L162.4,388L170,391.6L178,394L177,400L170,403L166,403L154,407.5L148.5,408L152,417.5L160,414L166,409L170,405L175,404L182,401L198,398.4L214,398.4L230,395.5L248,393L254,388L258,376L260,360L261.6,344L262,340L265,336.3L267.3,331.8L259,328L256,322L257,319.3L270,319L271,317.5L274,310L277,302.5L278.8,293.5L277,282L276.7,272.5L268.8,274.8L263.5,270.3L258.7,275.8L252.3,268.8L260,261L270,250L284,241L294,236L304,230L312,225L322,214L334,206L342,204L350,197L357,193L364,187L370,178L374,173L382,165L388,163L396,157L402,150L404,144L409,136L414,131L422,124L429,117L430,112L427,109L427,104L436,101.6L442,97L445.6,90L446.4,76L441,71L446,66L456,61.6L466,59L475,57L483,54"/>
<path stroke-width="2.45" d="M335,103L340,96.3L349.5,93L361,105.5L367,100.5L375,112.5L385,120L388.8,127.5L391.3,135L397.5,140L396.3,148.8L388.8,153L382.5,140L376.3,130L367.5,125L360,124.5L350,120L341.3,112.5L335,103"/>
<path stroke-width="2.45" d="M258,204L266,207L265.6,222L270,230L273,236L275,243L270,250"/>
<path stroke-width="2.45" d="M258,204L257,216L254,226L252.4,236L253,248L254,255L260,254.4L267,252.4"/>
<path stroke-width="2.45" d="M275,243L288,237L294,230L288,226L289,219L299,215L305,219L304,208L309,211L317,204L319,198.4L326,204L333,203L335,192.4L342,199L341,204"/>
<path stroke-width="2.45" d="M594,81.4L569,58.6L577,64.6L590,64L598,62L606,62.6L616,65L626,68L638,69L648,72L660,72L670,71.4L682,73L690,76L698,79L705,79.4L711,77L715,67.4L720,64L725.6,61"/>
<path stroke-width="2.45" d="M594,81.4L597,75L606,72.6L616,74.6L626,79L636,82.6L648,81.4L653,88L657,95L650,96L644,101L636,103.4L626,102L616,104L609,108L615,115L622,115L628,112L636,112L647,118L656,119.4L662,123L667,128.6L676,130.6L685,132L690,139L700,147L712,150L725.6,153"/>
<path stroke-width="2.45" d="M668,54.6L671,60.6L677,59L684,54"/>
<path stroke-width="2.45" d="M690,54L698,60.6L710,60.6L718,59.4L725,56"/>
<path stroke-width="2.45" d="M568,98.6L566,104L572,113L578,118L590,122"/>
<path stroke-width="4.2" d="M578,118L590,122L602,126L614,127.4L630,130L642,133L654,134.6"/>
<path stroke-width="2.45" d="M654,134.6L669,137.4"/>
</g>
<rect x="73" y="53" width="653" height="495" fill="none" stroke="#000" stroke-width="2" shape-rendering="crispEdges"/>
<g stroke="#000" stroke-width="1" shape-rendering="crispEdges"><line x1="153.5" y1="549" x2="153.5" y2="552"/><line x1="235.5" y1="549" x2="235.5" y2="552"/><line x1="318.5" y1="549" x2="318.5" y2="552"/><line x1="400.5" y1="549" x2="400.5" y2="552"/><line x1="482.5" y1="549" x2="482.5" y2="552"/><line x1="564.5" y1="549" x2="564.5" y2="552"/><line x1="647.5" y1="549" x2="647.5" y2="552"/><line x1="69" y1="455.5" x2="72" y2="455.5"/><line x1="69" y1="360.5" x2="72" y2="360.5"/><line x1="69" y1="264.5" x2="72" y2="264.5"/><line x1="69" y1="168.5" x2="72" y2="168.5"/><line x1="69" y1="72.5" x2="72" y2="72.5"/></g>
<text x="147.1" y="563" font-size="12.5" textLength="13.2" lengthAdjust="spacingAndGlyphs">29</text>
<text x="224.0" y="563" font-size="12.5" textLength="23.3" lengthAdjust="spacingAndGlyphs">29.5</text>
<text x="312.1" y="563" font-size="12.5" textLength="13.2" lengthAdjust="spacingAndGlyphs">30</text>
<text x="389.1" y="563" font-size="12.5" textLength="23.3" lengthAdjust="spacingAndGlyphs">30.5</text>
<text x="476.1" y="563" font-size="12.5" textLength="13.2" lengthAdjust="spacingAndGlyphs">31</text>
<text x="553.1" y="563" font-size="12.5" textLength="23.3" lengthAdjust="spacingAndGlyphs">31.5</text>
<text x="641.1" y="563" font-size="12.5" textLength="13.2" lengthAdjust="spacingAndGlyphs">32</text>
<text x="42.0" y="460.0" font-size="12.5" textLength="24.2" lengthAdjust="spacingAndGlyphs">44.5</text>
<text x="53.2" y="365.0" font-size="12.5" textLength="13" lengthAdjust="spacingAndGlyphs">45</text>
<text x="42.0" y="269.0" font-size="12.5" textLength="24.2" lengthAdjust="spacingAndGlyphs">45.5</text>
<text x="53.2" y="173.0" font-size="12.5" textLength="13" lengthAdjust="spacingAndGlyphs">46</text>
<text x="42.0" y="77.0" font-size="12.5" textLength="24.2" lengthAdjust="spacingAndGlyphs">46.5</text>
<text x="75.3" y="41.5" font-size="23.5" textLength="76.7" lengthAdjust="spacingAndGlyphs" stroke="#000" stroke-width="0.35">Salinity</text>
<text x="167.8" y="41.5" font-size="23.5" textLength="65.0" lengthAdjust="spacingAndGlyphs" stroke="#000" stroke-width="0.35">(ppt).</text>
<text x="246" y="41.5" font-size="23.5" textLength="49.3" lengthAdjust="spacingAndGlyphs" stroke="#000" stroke-width="0.35">Date</text>
<text x="310.5" y="41.5" font-size="23.5" textLength="135.5" lengthAdjust="spacingAndGlyphs" stroke="#000" stroke-width="0.35">2012.08.13.</text>
<text x="464.6" y="41.5" font-size="23.5" textLength="47.4" lengthAdjust="spacingAndGlyphs" stroke="#000" stroke-width="0.35">Time</text>
<text x="527" y="41.5" font-size="23.5" textLength="136.5" lengthAdjust="spacingAndGlyphs" stroke="#000" stroke-width="0.35">00(h):00(m)</text>
<text x="683" y="41.5" font-size="23.5" textLength="40.5" lengthAdjust="spacingAndGlyphs" stroke="#000" stroke-width="0.35">GMT</text>
<text x="323.5" y="588.8" font-size="19.5" textLength="85.5" lengthAdjust="spacingAndGlyphs" stroke="#000" stroke-width="0.3">Longitude</text>
<text x="421.8" y="588.8" font-size="19.5" textLength="54.2" lengthAdjust="spacingAndGlyphs" stroke="#000" stroke-width="0.3">(East)</text>
<text transform="translate(30.7,372) rotate(-90)" font-size="19.5" textLength="69.3" lengthAdjust="spacingAndGlyphs" stroke="#000" stroke-width="0.3">Latitude</text>
<text transform="translate(30.7,290.7) rotate(-90)" font-size="19.5" textLength="60.7" lengthAdjust="spacingAndGlyphs" stroke="#000" stroke-width="0.3">(North)</text>
<text x="110.4" y="107" font-size="19.2" style="font-family:'DejaVu Sans',sans-serif;font-weight:200" stroke="#000" stroke-width="0.3" textLength="12.0" lengthAdjust="spacingAndGlyphs">Z</text>
<text x="138.4" y="107" font-size="19.2" style="font-family:'DejaVu Sans',sans-serif;font-weight:200" stroke="#000" stroke-width="0.3" textLength="15.6" lengthAdjust="spacingAndGlyphs">=</text>
<text x="170" y="107" font-size="19.2" style="font-family:'DejaVu Sans',sans-serif;font-weight:200" stroke="#000" stroke-width="0.3" textLength="34.0" lengthAdjust="spacing">2.5</text>
<text x="220" y="107" font-size="19.2" style="font-family:'DejaVu Sans',sans-serif;font-weight:200" stroke="#000" stroke-width="0.3" textLength="18.0" lengthAdjust="spacingAndGlyphs">m</text>
<g shape-rendering="crispEdges"><rect x="734" y="534.99" width="15" height="6.31" fill="#000086"/><rect x="734" y="528.98" width="15" height="6.31" fill="#000093"/><rect x="734" y="522.96" width="15" height="6.31" fill="#00009f"/><rect x="734" y="516.95" width="15" height="6.31" fill="#0000ac"/><rect x="734" y="510.94" width="15" height="6.31" fill="#0000b9"/><rect x="734" y="504.93" width="15" height="6.31" fill="#0000c6"/><rect x="734" y="498.91" width="15" height="6.31" fill="#0000d2"/><rect x="734" y="492.90" width="15" height="6.31" fill="#0000df"/><rect x="734" y="486.89" width="15" height="6.31" fill="#0000ec"/><rect x="734" y="480.88" width="15" height="6.31" fill="#0000f9"/><rect x="734" y="474.86" width="15" height="6.31" fill="#0006ff"/><rect x="734" y="468.85" width="15" height="6.31" fill="#0013ff"/><rect x="734" y="462.84" width="15" height="6.31" fill="#0020ff"/><rect x="734" y="456.82" width="15" height="6.31" fill="#002dff"/><rect x="734" y="450.81" width="15" height="6.31" fill="#0039ff"/><rect x="734" y="444.80" width="15" height="6.31" fill="#0046ff"/><rect x="734" y="438.79" width="15" height="6.31" fill="#0053ff"/><rect x="734" y="432.77" width="15" height="6.31" fill="#0060ff"/><rect x="734" y="426.76" width="15" height="6.31" fill="#006cff"/><rect x="734" y="420.75" width="15" height="6.31" fill="#0079ff"/><rect x="734" y="414.74" width="15" height="6.31" fill="#0086ff"/><rect x="734" y="408.73" width="15" height="6.31" fill="#0093ff"/><rect x="734" y="402.71" width="15" height="6.31" fill="#009fff"/><rect x="734" y="396.70" width="15" height="6.31" fill="#00acff"/><rect x="734" y="390.69" width="15" height="6.31" fill="#00b9ff"/><rect x="734" y="384.68" width="15" height="6.31" fill="#00c6ff"/><rect x="734" y="378.66" width="15" height="6.31" fill="#00d2ff"/><rect x="734" y="372.65" width="15" height="6.31" fill="#00dfff"/><rect x="734" y="366.64" width="15" height="6.31" fill="#00ecff"/><rect x="734" y="360.62" width="15" height="6.31" fill="#00f9ff"/><rect x="734" y="354.61" width="15" height="6.31" fill="#06fff9"/><rect x="734" y="348.60" width="15" height="6.31" fill="#13ffec"/><rect x="734" y="342.59" width="15" height="6.31" fill="#20ffdf"/><rect x="734" y="336.57" width="15" height="6.31" fill="#2dffd2"/><rect x="734" y="330.56" width="15" height="6.31" fill="#39ffc6"/><rect x="734" y="324.55" width="15" height="6.31" fill="#46ffb9"/><rect x="734" y="318.54" width="15" height="6.31" fill="#53ffac"/><rect x="734" y="312.52" width="15" height="6.31" fill="#60ff9f"/><rect x="734" y="306.51" width="15" height="6.31" fill="#6cff93"/><rect x="734" y="300.50" width="15" height="6.31" fill="#79ff86"/><rect x="734" y="294.49" width="15" height="6.31" fill="#86ff79"/><rect x="734" y="288.48" width="15" height="6.31" fill="#93ff6c"/><rect x="734" y="282.46" width="15" height="6.31" fill="#9fff60"/><rect x="734" y="276.45" width="15" height="6.31" fill="#acff53"/><rect x="734" y="270.44" width="15" height="6.31" fill="#b9ff46"/><rect x="734" y="264.43" width="15" height="6.31" fill="#c6ff39"/><rect x="734" y="258.41" width="15" height="6.31" fill="#d2ff2d"/><rect x="734" y="252.40" width="15" height="6.31" fill="#dfff20"/><rect x="734" y="246.39" width="15" height="6.31" fill="#ecff13"/><rect x="734" y="240.38" width="15" height="6.31" fill="#f9ff06"/><rect x="734" y="234.36" width="15" height="6.31" fill="#fff900"/><rect x="734" y="228.35" width="15" height="6.31" fill="#ffec00"/><rect x="734" y="222.34" width="15" height="6.31" fill="#ffdf00"/><rect x="734" y="216.32" width="15" height="6.31" fill="#ffd200"/><rect x="734" y="210.31" width="15" height="6.31" fill="#ffc600"/><rect x="734" y="204.30" width="15" height="6.31" fill="#ffb900"/><rect x="734" y="198.29" width="15" height="6.31" fill="#ffac00"/><rect x="734" y="192.27" width="15" height="6.31" fill="#ff9f00"/><rect x="734" y="186.26" width="15" height="6.31" fill="#ff9300"/><rect x="734" y="180.25" width="15" height="6.31" fill="#ff8600"/><rect x="734" y="174.24" width="15" height="6.31" fill="#ff7900"/><rect x="734" y="168.23" width="15" height="6.31" fill="#ff6c00"/><rect x="734" y="162.21" width="15" height="6.31" fill="#ff6000"/><rect x="734" y="156.20" width="15" height="6.31" fill="#ff5300"/><rect x="734" y="150.19" width="15" height="6.31" fill="#ff4600"/><rect x="734" y="144.18" width="15" height="6.31" fill="#ff3900"/><rect x="734" y="138.16" width="15" height="6.31" fill="#ff2d00"/><rect x="734" y="132.15" width="15" height="6.31" fill="#ff2000"/><rect x="734" y="126.14" width="15" height="6.31" fill="#ff1300"/><rect x="734" y="120.12" width="15" height="6.31" fill="#ff0600"/><rect x="734" y="114.11" width="15" height="6.31" fill="#f90000"/><rect x="734" y="108.10" width="15" height="6.31" fill="#ec0000"/><rect x="734" y="102.09" width="15" height="6.31" fill="#df0000"/><rect x="734" y="96.07" width="15" height="6.31" fill="#d20000"/><rect x="734" y="90.06" width="15" height="6.31" fill="#c60000"/><rect x="734" y="84.05" width="15" height="6.31" fill="#b90000"/><rect x="734" y="78.04" width="15" height="6.31" fill="#ac0000"/><rect x="734" y="72.02" width="15" height="6.31" fill="#9f0000"/><rect x="734" y="66.01" width="15" height="6.31" fill="#930000"/><rect x="734" y="60.00" width="15" height="6.31" fill="#860000"/></g><text x="761.3" y="72" font-size="13.5" textLength="28.5" lengthAdjust="spacing">18.4</text><text x="761.3" y="185" font-size="13.5" textLength="28.5" lengthAdjust="spacing">17.5</text><text x="761.3" y="303" font-size="13.5" textLength="28.5" lengthAdjust="spacing">16.6</text><text x="761.3" y="421.5" font-size="13.5" textLength="28.5" lengthAdjust="spacing">15.7</text><text x="761.3" y="540" font-size="13.5" textLength="28.5" lengthAdjust="spacing">14.8</text>
</svg></body></html>
